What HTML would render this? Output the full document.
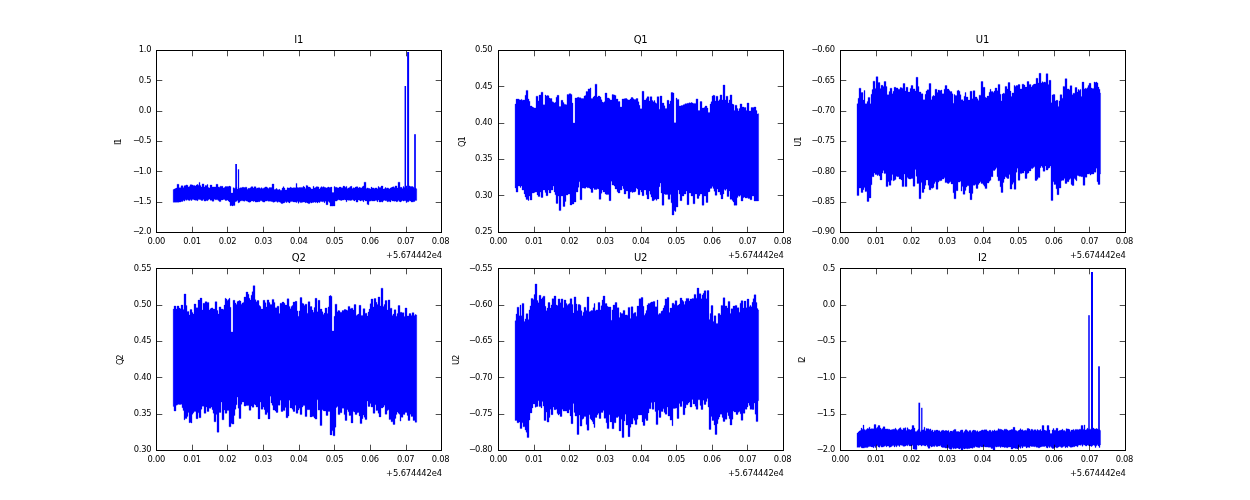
<!DOCTYPE html>
<html><head><meta charset="utf-8"><title>Stokes plots</title>
<style>
html,body{margin:0;padding:0;background:#fff;overflow:hidden}
body{width:1250px;height:500px}
svg text{font-family:"DejaVu Sans","Liberation Sans",sans-serif;fill:#000;letter-spacing:-0.13px}
</style></head><body>
<svg width="1250" height="500" viewBox="0 0 1250 500" style="display:block">
<rect width="1250" height="500" fill="#ffffff"/>
<g>
<clipPath id="c0"><rect x="156.25" y="50.00" width="284.93" height="181.82"/></clipPath>
<g clip-path="url(#c0)"><path d="M173.15 189.5 174 189.5 174 189.0 175 189.0 175 188.5 176 188.5 176 188.1 177 188.1 177 184.3 178 184.3 178 184.3 179 184.3 179 187.7 180 187.7 180 187.7 181 187.7 181 185.8 182 185.8 182 185.8 183 185.8 183 187.4 184 187.4 184 185.7 185 185.7 185 185.5 186 185.5 186 184.9 187 184.9 187 185.3 188 185.3 188 187.1 189 187.1 189 186.4 190 186.4 190 184.7 191 184.7 191 184.7 192 184.7 192 185.0 193 185.0 193 185.4 194 185.4 194 185.4 195 185.4 195 186.1 196 186.1 196 185.1 197 185.1 197 184.5 198 184.5 198 185.2 199 185.2 199 182.4 200 182.4 200 185.4 201 185.4 201 186.9 202 186.9 202 183.9 203 183.9 203 183.9 204 183.9 204 186.9 205 186.9 205 185.4 206 185.4 206 185.4 207 185.4 207 184.6 208 184.6 208 187.5 209 187.5 209 187.9 210 187.9 210 185.0 211 185.0 211 185.0 212 185.0 212 186.9 213 186.9 213 186.9 214 186.9 214 187.0 215 187.0 215 186.9 216 186.9 216 184.3 217 184.3 217 184.3 218 184.3 218 186.9 219 186.9 219 187.3 220 187.3 220 186.2 221 186.2 221 186.3 222 186.3 222 186.3 223 186.3 223 188.0 224 188.0 224 187.6 225 187.6 225 186.5 226 186.5 226 186.5 227 186.5 227 186.5 228 186.5 228 186.5 229 186.5 229 186.1 230 186.1 230 186.6 231 186.6 231 193.0 232 193.0 232 193.0 233 193.0 233 187.7 234 187.7 234 188.2 235 188.2 235 188.2 236 188.2 236 187.0 237 187.0 237 189.0 238 189.0 238 189.0 239 189.0 239 188.3 240 188.3 240 187.8 241 187.8 241 187.8 242 187.8 242 187.3 243 187.3 243 187.3 244 187.3 244 187.5 245 187.5 245 187.2 246 187.2 246 187.2 247 187.2 247 189.2 248 189.2 248 188.3 249 188.3 249 188.3 250 188.3 250 187.8 251 187.8 251 186.7 252 186.7 252 186.7 253 186.7 253 188.1 254 188.1 254 186.7 255 186.7 255 186.7 256 186.7 256 188.2 257 188.2 257 187.9 258 187.9 258 187.8 259 187.8 259 187.8 260 187.8 260 188.6 261 188.6 261 187.7 262 187.7 262 188.4 263 188.4 263 188.2 264 188.2 264 187.7 265 187.7 265 186.9 266 186.9 266 186.9 267 186.9 267 187.7 268 187.7 268 188.5 269 188.5 269 187.6 270 187.6 270 187.6 271 187.6 271 187.6 272 187.6 272 184.0 273 184.0 273 184.0 274 184.0 274 189.5 275 189.5 275 189.3 276 189.3 276 188.6 277 188.6 277 189.4 278 189.4 278 189.8 279 189.8 279 189.3 280 189.3 280 190.3 281 190.3 281 190.2 282 190.2 282 188.1 283 188.1 283 186.7 284 186.7 284 188.1 285 188.1 285 190.0 286 190.0 286 189.9 287 189.9 287 187.8 288 187.8 288 187.9 289 187.9 289 188.0 290 188.0 290 187.2 291 187.2 291 187.7 292 187.7 292 188.1 293 188.1 293 187.7 294 187.7 294 187.7 295 187.7 295 187.8 296 187.8 296 183.4 297 183.4 297 187.5 298 187.5 298 187.7 299 187.7 299 187.5 300 187.5 300 187.4 301 187.4 301 187.4 302 187.4 302 187.6 303 187.6 303 186.3 304 186.3 304 187.1 305 187.1 305 188.6 306 188.6 306 185.4 307 185.4 307 185.7 308 185.7 308 187.1 309 187.1 309 187.1 310 187.1 310 187.8 311 187.8 311 189.0 312 189.0 312 189.0 313 189.0 313 186.3 314 186.3 314 187.9 315 187.9 315 187.6 316 187.6 316 186.7 317 186.7 317 186.7 318 186.7 318 186.9 319 186.9 319 189.1 320 189.1 320 187.7 321 187.7 321 186.7 322 186.7 322 187.3 323 187.3 323 186.7 324 186.7 324 187.3 325 187.3 325 187.6 326 187.6 326 187.9 327 187.9 327 187.4 328 187.4 328 187.0 329 187.0 329 187.6 330 187.6 330 187.3 331 187.3 331 187.1 332 187.1 332 192.5 333 192.5 333 192.5 334 192.5 334 186.6 335 186.6 335 187.3 336 187.3 336 187.3 337 187.3 337 187.8 338 187.8 338 187.9 339 187.9 339 187.1 340 187.1 340 187.0 341 187.0 341 187.7 342 187.7 342 187.8 343 187.8 343 186.1 344 186.1 344 186.3 345 186.3 345 187.3 346 187.3 346 186.4 347 186.4 347 188.4 348 188.4 348 188.0 349 188.0 349 187.4 350 187.4 350 186.6 351 186.6 351 186.3 352 186.3 352 188.6 353 188.6 353 187.8 354 187.8 354 188.1 355 188.1 355 187.1 356 187.1 356 186.8 357 186.8 357 186.8 358 186.8 358 188.1 359 188.1 359 187.3 360 187.3 360 187.7 361 187.7 361 188.0 362 188.0 362 186.8 363 186.8 363 185.9 364 185.9 364 182.2 365 182.2 365 182.2 366 182.2 366 188.4 367 188.4 367 187.9 368 187.9 368 188.3 369 188.3 369 188.5 370 188.5 370 188.9 371 188.9 371 187.1 372 187.1 372 187.9 373 187.9 373 187.9 374 187.9 374 188.4 375 188.4 375 187.9 376 187.9 376 187.9 377 187.9 377 188.8 378 188.8 378 186.5 379 186.5 379 187.6 380 187.6 380 187.6 381 187.6 381 186.0 382 186.0 382 186.0 383 186.0 383 189.1 384 189.1 384 188.7 385 188.7 385 187.6 386 187.6 386 188.3 387 188.3 387 187.9 388 187.9 388 188.2 389 188.2 389 188.9 390 188.9 390 188.0 391 188.0 391 187.5 392 187.5 392 187.0 393 187.0 393 186.8 394 186.8 394 187.4 395 187.4 395 185.9 396 185.9 396 185.9 397 185.9 397 187.9 398 187.9 398 182.2 399 182.2 399 182.2 400 182.2 400 187.3 401 187.3 401 187.3 402 187.3 402 188.5 403 188.5 403 186.6 404 186.6 404 187.4 405 187.4 405 187.4 406 187.4 406 185.9 407 185.9 407 188.6 408 188.6 408 185.9 409 185.9 409 185.9 410 185.9 410 186.6 411 186.6 411 186.5 412 186.5 412 186.5 413 186.5 413 187.2 414 187.2 414 188.4 415 188.4 415 188.0 416 188.0 416 188.8 416.75 188.8 416.75 200.4 416 200.4 416 200.5 415 200.5 415 201.5 414 201.5 414 201.8 413 201.8 413 202.0 412 202.0 412 202.0 411 202.0 411 201.0 410 201.0 410 200.8 409 200.8 409 201.8 408 201.8 408 201.8 407 201.8 407 202.6 406 202.6 406 200.7 405 200.7 405 200.7 404 200.7 404 201.1 403 201.1 403 200.5 402 200.5 402 201.2 401 201.2 401 201.9 400 201.9 400 201.5 399 201.5 399 200.6 398 200.6 398 201.6 397 201.6 397 201.7 396 201.7 396 201.0 395 201.0 395 201.2 394 201.2 394 201.1 393 201.1 393 201.0 392 201.0 392 200.3 391 200.3 391 201.9 390 201.9 390 201.6 389 201.6 389 201.6 388 201.6 388 201.7 387 201.7 387 200.8 386 200.8 386 200.7 385 200.7 385 200.3 384 200.3 384 200.7 383 200.7 383 202.1 382 202.1 382 201.7 381 201.7 381 202.0 380 202.0 380 202.0 379 202.0 379 200.1 378 200.1 378 201.7 377 201.7 377 200.6 376 200.6 376 200.6 375 200.6 375 201.0 374 201.0 374 201.0 373 201.0 373 201.0 372 201.0 372 200.8 371 200.8 371 201.1 370 201.1 370 201.2 369 201.2 369 204.7 368 204.7 368 204.3 367 204.3 367 200.9 366 200.9 366 200.9 365 200.9 365 200.0 364 200.0 364 201.7 363 201.7 363 200.6 362 200.6 362 200.6 361 200.6 361 201.0 360 201.0 360 200.2 359 200.2 359 199.9 358 199.9 358 202.1 357 202.1 357 202.1 356 202.1 356 200.1 355 200.1 355 200.9 354 200.9 354 200.3 353 200.3 353 199.8 352 199.8 352 200.3 351 200.3 351 200.4 350 200.4 350 200.3 349 200.3 349 200.3 348 200.3 348 200.0 347 200.0 347 201.8 346 201.8 346 199.9 345 199.9 345 199.8 344 199.8 344 200.0 343 200.0 343 200.1 342 200.1 342 200.4 341 200.4 341 200.3 340 200.3 340 200.0 339 200.0 339 199.7 338 199.7 338 200.3 337 200.3 337 201.1 336 201.1 336 201.1 335 201.1 335 206.0 334 206.0 334 205.9 333 205.9 333 206.1 332 206.1 332 206.0 331 206.0 331 206.1 330 206.1 330 202.4 329 202.4 329 201.4 328 201.4 328 204.7 327 204.7 327 204.7 326 204.7 326 201.3 325 201.3 325 202.7 324 202.7 324 201.5 323 201.5 323 201.8 322 201.8 322 201.4 321 201.4 321 201.4 320 201.4 320 202.5 319 202.5 319 201.9 318 201.9 318 203.0 317 203.0 317 202.0 316 202.0 316 202.6 315 202.6 315 202.0 314 202.0 314 202.4 313 202.4 313 202.4 312 202.4 312 203.0 311 203.0 311 202.4 310 202.4 310 203.6 309 203.6 309 203.6 308 203.6 308 202.9 307 202.9 307 202.5 306 202.5 306 202.7 305 202.7 305 202.0 304 202.0 304 202.1 303 202.1 303 202.2 302 202.2 302 202.6 301 202.6 301 202.6 300 202.6 300 201.7 299 201.7 299 203.2 298 203.2 298 201.4 297 201.4 297 202.4 296 202.4 296 202.1 295 202.1 295 202.0 294 202.0 294 201.9 293 201.9 293 201.6 292 201.6 292 201.6 291 201.6 291 201.8 290 201.8 290 202.9 289 202.9 289 202.2 288 202.2 288 201.8 287 201.8 287 202.5 286 202.5 286 201.8 285 201.8 285 202.7 284 202.7 284 202.9 283 202.9 283 203.6 282 203.6 282 203.4 281 203.4 281 202.6 280 202.6 280 202.0 279 202.0 279 201.8 278 201.8 278 202.3 277 202.3 277 201.6 276 201.6 276 201.6 275 201.6 275 202.0 274 202.0 274 202.2 273 202.2 273 201.7 272 201.7 272 201.4 271 201.4 271 201.2 270 201.2 270 201.2 269 201.2 269 201.2 268 201.2 268 200.8 267 200.8 267 201.1 266 201.1 266 201.1 265 201.1 265 202.1 264 202.1 264 202.1 263 202.1 263 201.6 262 201.6 262 200.7 261 200.7 261 200.8 260 200.8 260 201.7 259 201.7 259 201.7 258 201.7 258 201.9 257 201.9 257 202.1 256 202.1 256 202.1 255 202.1 255 200.9 254 200.9 254 201.5 253 201.5 253 200.9 252 200.9 252 200.9 251 200.9 251 202.0 250 202.0 250 202.2 249 202.2 249 202.0 248 202.0 248 201.3 247 201.3 247 201.1 246 201.1 246 200.6 245 200.6 245 201.2 244 201.2 244 201.1 243 201.1 243 200.8 242 200.8 242 200.8 241 200.8 241 200.9 240 200.9 240 202.2 239 202.2 239 202.8 238 202.8 238 200.6 237 200.6 237 201.3 236 201.3 236 201.7 235 201.7 235 205.6 234 205.6 234 205.4 233 205.4 233 205.9 232 205.9 232 205.5 231 205.5 231 205.7 230 205.7 230 201.9 229 201.9 229 201.0 228 201.0 228 200.0 227 200.0 227 200.4 226 200.4 226 200.4 225 200.4 225 199.4 224 199.4 224 199.5 223 199.5 223 199.9 222 199.9 222 199.9 221 199.9 221 201.6 220 201.6 220 201.6 219 201.6 219 200.5 218 200.5 218 199.8 217 199.8 217 199.8 216 199.8 216 199.8 215 199.8 215 199.3 214 199.3 214 201.2 213 201.2 213 201.2 212 201.2 212 200.3 211 200.3 211 200.3 210 200.3 210 199.1 209 199.1 209 199.8 208 199.8 208 200.7 207 200.7 207 200.4 206 200.4 206 201.1 205 201.1 205 201.1 204 201.1 204 199.6 203 199.6 203 200.4 202 200.4 202 200.4 201 200.4 201 199.7 200 199.7 200 199.6 199 199.6 199 199.6 198 199.6 198 200.7 197 200.7 197 200.2 196 200.2 196 200.2 195 200.2 195 200.0 194 200.0 194 199.6 193 199.6 193 199.6 192 199.6 192 200.5 191 200.5 191 199.8 190 199.8 190 200.6 189 200.6 189 200.2 188 200.2 188 199.8 187 199.8 187 200.2 186 200.2 186 199.8 185 199.8 185 201.1 184 201.1 184 200.6 183 200.6 183 201.4 182 201.4 182 201.4 181 201.4 181 202.0 180 202.0 180 202.0 179 202.0 179 202.2 178 202.2 178 202.2 177 202.2 177 202.2 176 202.2 176 202.3 175 202.3 175 202.3 174 202.3 174 202.3 173.15 202.3Z" fill="#0000ff" stroke="#0000ff" stroke-width="0.30" stroke-linejoin="miter"/><rect x="235.25" y="164.00" width="1.70" height="34.28" fill="#0000ff"/><rect x="237.85" y="169.30" width="1.30" height="30.52" fill="#0000ff"/><rect x="404.55" y="86.00" width="1.50" height="111.66" fill="#0000ff"/><rect x="407.10" y="52.00" width="2.00" height="146.81" fill="#0000ff"/><rect x="414.15" y="134.20" width="1.70" height="63.30" fill="#0000ff"/></g>
<path d="M156.50 232.50 v-5.80 M156.50 50.50 v5.80 M192.50 232.50 v-5.80 M192.50 50.50 v5.80 M227.50 232.50 v-5.80 M227.50 50.50 v5.80 M263.50 232.50 v-5.80 M263.50 50.50 v5.80 M299.50 232.50 v-5.80 M299.50 50.50 v5.80 M334.50 232.50 v-5.80 M334.50 50.50 v5.80 M370.50 232.50 v-5.80 M370.50 50.50 v5.80 M406.50 232.50 v-5.80 M406.50 50.50 v5.80 M441.50 232.50 v-5.80 M441.50 50.50 v5.80 M156.50 50.50 h5.80 M441.50 50.50 h-5.80 M156.50 80.50 h5.80 M441.50 80.50 h-5.80 M156.50 111.50 h5.80 M441.50 111.50 h-5.80 M156.50 141.50 h5.80 M441.50 141.50 h-5.80 M156.50 171.50 h5.80 M441.50 171.50 h-5.80 M156.50 202.50 h5.80 M441.50 202.50 h-5.80 M156.50 232.50 h5.80 M441.50 232.50 h-5.80" stroke="#000" stroke-width="0.70" fill="none"/>
<rect x="156.50" y="50.50" width="285.00" height="182.00" fill="none" stroke="#000" stroke-width="1.00"/>
<text x="156.35" y="244.02" text-anchor="middle" font-size="8.33" style="letter-spacing:-0.25px">0.00</text>
<text x="191.97" y="244.02" text-anchor="middle" font-size="8.33" style="letter-spacing:-0.25px">0.01</text>
<text x="227.58" y="244.02" text-anchor="middle" font-size="8.33" style="letter-spacing:-0.25px">0.02</text>
<text x="263.20" y="244.02" text-anchor="middle" font-size="8.33" style="letter-spacing:-0.25px">0.03</text>
<text x="298.81" y="244.02" text-anchor="middle" font-size="8.33" style="letter-spacing:-0.25px">0.04</text>
<text x="334.43" y="244.02" text-anchor="middle" font-size="8.33" style="letter-spacing:-0.25px">0.05</text>
<text x="370.04" y="244.02" text-anchor="middle" font-size="8.33" style="letter-spacing:-0.25px">0.06</text>
<text x="405.66" y="244.02" text-anchor="middle" font-size="8.33" style="letter-spacing:-0.25px">0.07</text>
<text x="440.58" y="244.02" text-anchor="middle" font-size="8.33" style="letter-spacing:-0.25px">0.08</text>
<text x="151.15" y="52.00" text-anchor="end" font-size="8.33" style="letter-spacing:-0.3px">1.0</text>
<text x="151.15" y="83.00" text-anchor="end" font-size="8.33" style="letter-spacing:-0.3px">0.5</text>
<text x="151.15" y="113.00" text-anchor="end" font-size="8.33" style="letter-spacing:-0.3px">0.0</text>
<text x="151.15" y="143.00" text-anchor="end" font-size="8.33" style="letter-spacing:-0.3px"><tspan style="letter-spacing:-1.1px">−</tspan>0.5</text>
<text x="151.15" y="174.00" text-anchor="end" font-size="8.33" style="letter-spacing:-0.3px"><tspan style="letter-spacing:-1.1px">−</tspan>1.0</text>
<text x="151.15" y="204.00" text-anchor="end" font-size="8.33" style="letter-spacing:-0.3px"><tspan style="letter-spacing:-1.1px">−</tspan>1.5</text>
<text x="151.15" y="234.00" text-anchor="end" font-size="8.33" style="letter-spacing:-0.3px"><tspan style="letter-spacing:-1.1px">−</tspan>2.0</text>
<text x="441.83" y="258.02" text-anchor="end" font-size="8.33">+5.674442e4</text>
<text x="298.71" y="43.00" text-anchor="middle" font-size="10.00">I1</text>
<text transform="translate(121.35 142.21) rotate(-90)" text-anchor="middle" font-size="8.33" style="letter-spacing:-1.2px">I1</text>
</g>
<g>
<clipPath id="c1"><rect x="498.16" y="50.00" width="284.93" height="181.82"/></clipPath>
<g clip-path="url(#c1)"><path d="M515.062 104.0 516 104.0 516 99.1 517 99.1 517 99.0 518 99.0 518 99.0 519 99.0 519 99.8 520 99.8 520 100.1 521 100.1 521 99.4 522 99.4 522 100.2 523 100.2 523 100.0 524 100.0 524 100.0 525 100.0 525 95.3 526 95.3 526 90.4 527 90.4 527 90.4 528 90.4 528 99.0 529 99.0 529 101.2 530 101.2 530 106.0 531 106.0 531 106.0 532 106.0 532 106.9 533 106.9 533 107.6 534 107.6 534 108.0 535 108.0 535 108.0 536 108.0 536 96.2 537 96.2 537 96.2 538 96.2 538 101.0 539 101.0 539 95.0 540 95.0 540 95.0 541 95.0 541 92.2 542 92.2 542 92.2 543 92.2 543 104.8 544 104.8 544 104.8 545 104.8 545 95.0 546 95.0 546 95.9 547 95.9 547 95.5 548 95.5 548 95.8 549 95.8 549 98.1 550 98.1 550 98.5 551 98.5 551 98.5 552 98.5 552 101.7 553 101.7 553 102.2 554 102.2 554 103.1 555 103.1 555 102.3 556 102.3 556 97.2 557 97.2 557 95.3 558 95.3 558 95.3 559 95.3 559 106.6 560 106.6 560 106.6 561 106.6 561 100.3 562 100.3 562 100.3 563 100.3 563 102.6 564 102.6 564 104.2 565 104.2 565 104.4 566 104.4 566 104.7 567 104.7 567 94.5 568 94.5 568 94.4 569 94.4 569 93.7 570 93.7 570 93.7 571 93.7 571 94.5 572 94.5 572 103.0 573 103.0 573 123.0 574 123.0 574 123.0 575 123.0 575 98.0 576 98.0 576 98.1 577 98.1 577 97.6 578 97.6 578 97.2 579 97.2 579 97.7 580 97.7 580 97.8 581 97.8 581 98.5 582 98.5 582 98.6 583 98.6 583 98.4 584 98.4 584 96.0 585 96.0 585 95.4 586 95.4 586 91.5 587 91.5 587 91.5 588 91.5 588 88.9 589 88.9 589 89.1 590 89.1 590 87.9 591 87.9 591 98.5 592 98.5 592 98.5 593 98.5 593 97.0 594 97.0 594 96.0 595 96.0 595 84.2 596 84.2 596 84.2 597 84.2 597 97.1 598 97.1 598 96.0 599 96.0 599 96.1 600 96.1 600 97.1 601 97.1 601 99.7 602 99.7 602 102.1 603 102.1 603 102.6 604 102.6 604 101.7 605 101.7 605 93.0 606 93.0 606 93.0 607 93.0 607 98.0 608 98.0 608 98.0 609 98.0 609 98.7 610 98.7 610 100.0 611 100.0 611 100.0 612 100.0 612 94.6 613 94.6 613 94.7 614 94.7 614 95.0 615 95.0 615 95.4 616 95.4 616 99.0 617 99.0 617 99.0 618 99.0 618 101.5 619 101.5 619 101.5 620 101.5 620 107.0 621 107.0 621 107.0 622 107.0 622 99.0 623 99.0 623 99.0 624 99.0 624 98.7 625 98.7 625 98.5 626 98.5 626 98.5 627 98.5 627 99.5 628 99.5 628 100.0 629 100.0 629 100.0 630 100.0 630 99.0 631 99.0 631 97.5 632 97.5 632 97.5 633 97.5 633 98.8 634 98.8 634 99.5 635 99.5 635 99.5 636 99.5 636 98.5 637 98.5 637 98.5 638 98.5 638 101.8 639 101.8 639 105.3 640 105.3 640 108.8 641 108.8 641 108.8 642 108.8 642 91.3 643 91.3 643 91.3 644 91.3 644 100.0 645 100.0 645 100.0 646 100.0 646 98.4 647 98.4 647 96.7 648 96.7 648 96.7 649 96.7 649 101.0 650 101.0 650 96.7 651 96.7 651 96.7 652 96.7 652 100.5 653 100.5 653 101.7 654 101.7 654 100.6 655 100.6 655 102.8 656 102.8 656 103.5 657 103.5 657 96.7 658 96.7 658 96.7 659 96.7 659 109.3 660 109.3 660 96.0 661 96.0 661 96.0 662 96.0 662 103.0 663 103.0 663 103.0 664 103.0 664 105.8 665 105.8 665 108.4 666 108.4 666 108.4 667 108.4 667 100.3 668 100.3 668 100.3 669 100.3 669 104.0 670 104.0 670 100.9 671 100.9 671 92.5 672 92.5 672 92.6 673 92.6 673 93.0 674 93.0 674 122.8 675 122.8 675 122.8 676 122.8 676 98.1 677 98.1 677 99.4 678 99.4 678 99.4 679 99.4 679 106.0 680 106.0 680 106.0 681 106.0 681 105.6 682 105.6 682 105.5 683 105.5 683 104.8 684 104.8 684 104.4 685 104.4 685 103.7 686 103.7 686 103.8 687 103.8 687 103.3 688 103.3 688 103.3 689 103.3 689 102.8 690 102.8 690 103.1 691 103.1 691 102.5 692 102.5 692 102.9 693 102.9 693 103.6 694 103.6 694 103.4 695 103.4 695 103.4 696 103.4 696 98.9 697 98.9 697 98.9 698 98.9 698 110.6 699 110.6 699 110.6 700 110.6 700 101.6 701 101.6 701 101.6 702 101.6 702 108.0 703 108.0 703 108.0 704 108.0 704 107.6 705 107.6 705 106.0 706 106.0 706 106.0 707 106.0 707 108.0 708 108.0 708 112.4 709 112.4 709 112.4 710 112.4 710 104.0 711 104.0 711 101.7 712 101.7 712 96.0 713 96.0 713 95.2 714 95.2 714 95.5 715 95.5 715 101.0 716 101.0 716 96.2 717 96.2 717 96.2 718 96.2 718 101.0 719 101.0 719 99.8 720 99.8 720 94.9 721 94.9 721 94.9 722 94.9 722 100.0 723 100.0 723 85.0 724 85.0 724 85.0 725 85.0 725 100.0 726 100.0 726 96.2 727 96.2 727 96.2 728 96.2 728 103.0 729 103.0 729 99.9 730 99.9 730 94.9 731 94.9 731 94.9 732 94.9 732 104.0 733 104.0 733 104.5 734 104.5 734 110.6 735 110.6 735 105.2 736 105.2 736 105.2 737 105.2 737 108.6 738 108.6 738 111.0 739 111.0 739 108.6 740 108.6 740 103.9 741 103.9 741 103.9 742 103.9 742 107.0 743 107.0 743 107.0 744 107.0 744 107.4 745 107.4 745 107.5 746 107.5 746 110.6 747 110.6 747 103.0 748 103.0 748 103.0 749 103.0 749 111.0 750 111.0 750 111.0 751 111.0 751 107.5 752 107.5 752 107.5 753 107.5 753 107.4 754 107.4 754 107.0 755 107.0 755 107.0 756 107.0 756 110.6 757 110.6 757 114.0 758 114.0 758 113.7 758.662 113.7 758.662 200.9 758 200.9 758 201.0 757 201.0 757 201.0 756 201.0 756 201.0 755 201.0 755 201.0 754 201.0 754 196.0 753 196.0 753 196.0 752 196.0 752 199.8 751 199.8 751 199.8 750 199.8 750 198.5 749 198.5 749 198.5 748 198.5 748 197.8 747 197.8 747 198.0 746 198.0 746 198.0 745 198.0 745 197.0 744 197.0 744 197.8 743 197.8 743 201.0 742 201.0 742 201.0 741 201.0 741 195.3 740 195.3 740 196.3 739 196.3 739 195.7 738 195.7 738 197.6 737 197.6 737 205.2 736 205.2 736 205.2 735 205.2 735 205.3 734 205.3 734 202.0 733 202.0 733 200.5 732 200.5 732 199.3 731 199.3 731 199.3 730 199.3 730 191.0 729 191.0 729 196.6 728 196.6 728 196.6 727 196.6 727 189.0 726 189.0 726 190.3 725 190.3 725 189.6 724 189.6 724 194.0 723 194.0 723 198.9 722 198.9 722 198.9 721 198.9 721 194.7 720 194.7 720 192.0 719 192.0 719 192.0 718 192.0 718 189.0 717 189.0 717 195.3 716 195.3 716 195.3 715 195.3 715 191.3 714 191.3 714 188.6 713 188.6 713 186.5 712 186.5 712 188.3 711 188.3 711 188.5 710 188.5 710 191.7 709 191.7 709 192.0 708 192.0 708 202.5 707 202.5 707 202.5 706 202.5 706 196.0 705 196.0 705 196.0 704 196.0 704 205.2 703 205.2 703 205.2 702 205.2 702 194.0 701 194.0 701 194.0 700 194.0 700 195.8 699 195.8 699 198.4 698 198.4 698 198.4 697 198.4 697 194.0 696 194.0 696 194.0 695 194.0 695 203.8 694 203.8 694 203.8 693 203.8 693 196.0 692 196.0 692 196.0 691 196.0 691 193.0 690 193.0 690 193.0 689 193.0 689 204.7 688 204.7 688 204.7 687 204.7 687 191.0 686 191.0 686 194.0 685 194.0 685 194.0 684 194.0 684 196.0 683 196.0 683 196.0 682 196.0 682 200.7 681 200.7 681 200.7 680 200.7 680 194.0 679 194.0 679 190.0 678 190.0 678 207.0 677 207.0 677 207.0 676 207.0 676 211.4 675 211.4 675 210.7 674 210.7 674 215.0 673 215.0 673 215.0 672 215.0 672 202.8 671 202.8 671 194.5 670 194.5 670 199.3 669 199.3 669 199.3 668 199.3 668 194.4 667 194.4 667 194.4 666 194.4 666 194.4 665 194.4 665 194.0 664 194.0 664 205.2 663 205.2 663 205.2 662 205.2 662 193.0 661 193.0 661 183.0 660 183.0 660 186.7 659 186.7 659 198.9 658 198.9 658 198.9 657 198.9 657 200.3 656 200.3 656 199.1 655 199.1 655 199.8 654 199.8 654 200.7 653 200.7 653 200.7 652 200.7 652 197.1 651 197.1 651 194.3 650 194.3 650 191.0 649 191.0 649 198.9 648 198.9 648 198.9 647 198.9 647 194.8 646 194.8 646 190.0 645 190.0 645 190.0 644 190.0 644 195.7 643 195.7 643 195.7 642 195.7 642 192.1 641 192.1 641 190.0 640 190.0 640 194.8 639 194.8 639 194.8 638 194.8 638 189.1 637 189.1 637 188.0 636 188.0 636 191.4 635 191.4 635 192.1 634 192.1 634 192.0 633 192.0 633 192.4 632 192.4 632 191.8 631 191.8 631 192.0 630 192.0 630 198.4 629 198.4 629 198.4 628 198.4 628 191.0 627 191.0 627 191.0 626 191.0 626 194.0 625 194.0 625 194.0 624 194.0 624 188.7 623 188.7 623 186.0 622 186.0 622 190.0 621 190.0 621 190.0 620 190.0 620 193.0 619 193.0 619 193.0 618 193.0 618 191.7 617 191.7 617 189.0 616 189.0 616 189.0 615 189.0 615 186.1 614 186.1 614 185.0 613 185.0 613 185.0 612 185.0 612 181.3 611 181.3 611 200.7 610 200.7 610 200.7 609 200.7 609 194.4 608 194.4 608 194.6 607 194.6 607 194.6 606 194.6 606 194.0 605 194.0 605 192.0 604 192.0 604 192.0 603 192.0 603 190.0 602 190.0 602 193.3 601 193.3 601 199.3 600 199.3 600 199.3 599 199.3 599 189.0 598 189.0 598 188.8 597 188.8 597 189.4 596 189.4 596 189.4 595 189.4 595 189.4 594 189.4 594 188.0 593 188.0 593 192.5 592 192.5 592 192.5 591 192.5 591 189.0 590 189.0 590 188.1 589 188.1 589 187.7 588 187.7 588 187.8 587 187.8 587 186.9 586 186.9 586 188.2 585 188.2 585 188.2 584 188.2 584 188.0 583 188.0 583 188.0 582 188.0 582 199.8 581 199.8 581 199.8 580 199.8 580 181.8 579 181.8 579 187.3 578 187.3 578 192.0 577 192.0 577 192.0 576 192.0 576 202.0 575 202.0 575 202.0 574 202.0 574 204.0 573 204.0 573 204.0 572 204.0 572 205.0 571 205.0 571 205.0 570 205.0 570 194.0 569 194.0 569 194.0 568 194.0 568 195.0 567 195.0 567 195.0 566 195.0 566 201.5 565 201.5 565 206.5 564 206.5 564 206.5 563 206.5 563 196.0 562 196.0 562 196.0 561 196.0 561 210.6 560 210.6 560 210.6 559 210.6 559 196.0 558 196.0 558 203.4 557 203.4 557 203.4 556 203.4 556 194.8 555 194.8 555 192.0 554 192.0 554 186.0 553 186.0 553 190.0 552 190.0 552 190.0 551 190.0 551 193.0 550 193.0 550 193.0 549 193.0 549 190.0 548 190.0 548 195.7 547 195.7 547 195.7 546 195.7 546 192.6 545 192.6 545 190.0 544 190.0 544 190.0 543 190.0 543 197.5 542 197.5 542 197.5 541 197.5 541 192.0 540 192.0 540 196.6 539 196.6 539 196.6 538 196.6 538 194.9 537 194.9 537 192.0 536 192.0 536 192.0 535 192.0 535 192.6 534 192.6 534 193.0 533 193.0 533 193.0 532 193.0 532 200.0 531 200.0 531 200.0 530 200.0 530 196.0 529 196.0 529 200.5 528 200.5 528 199.5 527 199.5 527 199.4 526 199.4 526 197.0 525 197.0 525 193.9 524 193.9 524 190.0 523 190.0 523 190.0 522 190.0 522 185.9 521 185.9 521 187.4 520 187.4 520 185.9 519 185.9 519 186.0 518 186.0 518 192.1 517 192.1 517 192.1 516 192.1 516 188.0 515.062 188.0Z" fill="#0000ff" stroke="#0000ff" stroke-width="0.30" stroke-linejoin="miter"/></g>
<path d="M498.50 232.50 v-5.80 M498.50 50.50 v5.80 M534.50 232.50 v-5.80 M534.50 50.50 v5.80 M569.50 232.50 v-5.80 M569.50 50.50 v5.80 M605.50 232.50 v-5.80 M605.50 50.50 v5.80 M641.50 232.50 v-5.80 M641.50 50.50 v5.80 M676.50 232.50 v-5.80 M676.50 50.50 v5.80 M712.50 232.50 v-5.80 M712.50 50.50 v5.80 M747.50 232.50 v-5.80 M747.50 50.50 v5.80 M783.50 232.50 v-5.80 M783.50 50.50 v5.80 M498.50 50.50 h5.80 M783.50 50.50 h-5.80 M498.50 86.50 h5.80 M783.50 86.50 h-5.80 M498.50 123.50 h5.80 M783.50 123.50 h-5.80 M498.50 159.50 h5.80 M783.50 159.50 h-5.80 M498.50 195.50 h5.80 M783.50 195.50 h-5.80 M498.50 232.50 h5.80 M783.50 232.50 h-5.80" stroke="#000" stroke-width="0.70" fill="none"/>
<rect x="498.50" y="50.50" width="285.00" height="182.00" fill="none" stroke="#000" stroke-width="1.00"/>
<text x="498.26" y="244.02" text-anchor="middle" font-size="8.33" style="letter-spacing:-0.25px">0.00</text>
<text x="533.88" y="244.02" text-anchor="middle" font-size="8.33" style="letter-spacing:-0.25px">0.01</text>
<text x="569.49" y="244.02" text-anchor="middle" font-size="8.33" style="letter-spacing:-0.25px">0.02</text>
<text x="605.11" y="244.02" text-anchor="middle" font-size="8.33" style="letter-spacing:-0.25px">0.03</text>
<text x="640.73" y="244.02" text-anchor="middle" font-size="8.33" style="letter-spacing:-0.25px">0.04</text>
<text x="676.34" y="244.02" text-anchor="middle" font-size="8.33" style="letter-spacing:-0.25px">0.05</text>
<text x="711.96" y="244.02" text-anchor="middle" font-size="8.33" style="letter-spacing:-0.25px">0.06</text>
<text x="747.57" y="244.02" text-anchor="middle" font-size="8.33" style="letter-spacing:-0.25px">0.07</text>
<text x="782.49" y="244.02" text-anchor="middle" font-size="8.33" style="letter-spacing:-0.25px">0.08</text>
<text x="492.26" y="52.00" text-anchor="end" font-size="8.33" style="letter-spacing:-0.3px">0.50</text>
<text x="492.26" y="89.00" text-anchor="end" font-size="8.33" style="letter-spacing:-0.3px">0.45</text>
<text x="492.26" y="125.00" text-anchor="end" font-size="8.33" style="letter-spacing:-0.3px">0.40</text>
<text x="492.26" y="161.00" text-anchor="end" font-size="8.33" style="letter-spacing:-0.3px">0.35</text>
<text x="492.26" y="198.00" text-anchor="end" font-size="8.33" style="letter-spacing:-0.3px">0.30</text>
<text x="492.26" y="234.00" text-anchor="end" font-size="8.33" style="letter-spacing:-0.3px">0.25</text>
<text x="783.74" y="258.02" text-anchor="end" font-size="8.33">+5.674442e4</text>
<text x="640.62" y="43.00" text-anchor="middle" font-size="10.00">Q1</text>
<text transform="translate(465.16 142.21) rotate(-90)" text-anchor="middle" font-size="8.33" style="letter-spacing:-1.2px">Q1</text>
</g>
<g>
<clipPath id="c2"><rect x="840.07" y="50.00" width="284.93" height="181.82"/></clipPath>
<g clip-path="url(#c2)"><path d="M856.974 103.8 857 103.8 857 103.7 858 103.7 858 98.3 859 98.3 859 88.2 860 88.2 860 88.2 861 88.2 861 92.5 862 92.5 862 92.5 863 92.5 863 100.1 864 100.1 864 90.5 865 90.5 865 103.7 866 103.7 866 103.7 867 103.7 867 101.4 868 101.4 868 97.4 869 97.4 869 97.4 870 97.4 870 103.7 871 103.7 871 94.3 872 94.3 872 89.6 873 89.6 873 81.2 874 81.2 874 81.2 875 81.2 875 88.4 876 88.4 876 76.7 877 76.7 877 76.7 878 76.7 878 82.6 879 82.6 879 82.6 880 82.6 880 88.4 881 88.4 881 85.3 882 85.3 882 85.3 883 85.3 883 86.6 884 86.6 884 81.5 885 81.5 885 81.5 886 81.5 886 86.6 887 86.6 887 94.7 888 94.7 888 94.7 889 94.7 889 91.6 890 91.6 890 88.2 891 88.2 891 88.2 892 88.2 892 93.8 893 93.8 893 91.3 894 91.3 894 87.3 895 87.3 895 87.3 896 87.3 896 88.0 897 88.0 897 88.0 898 88.0 898 89.3 899 89.3 899 89.3 900 89.3 900 87.6 901 87.6 901 87.7 902 87.7 902 88.2 903 88.2 903 83.5 904 83.5 904 83.5 905 83.5 905 91.1 906 91.1 906 87.3 907 87.3 907 87.3 908 87.3 908 92.0 909 92.0 909 92.0 910 92.0 910 88.4 911 88.4 911 85.5 912 85.5 912 85.5 913 85.5 913 88.9 914 88.9 914 88.9 915 88.9 915 91.1 916 91.1 916 77.3 917 77.3 917 77.3 918 77.3 918 86.6 919 86.6 919 92.0 920 92.0 920 92.0 921 92.0 921 93.8 922 93.8 922 93.8 923 93.8 923 99.7 924 99.7 924 99.7 925 99.7 925 94.3 926 94.3 926 91.1 927 91.1 927 89.8 928 89.8 928 89.8 929 89.8 929 83.5 930 83.5 930 83.5 931 83.5 931 99.7 932 99.7 932 96.5 933 96.5 933 95.4 934 95.4 934 96.1 935 96.1 935 89.3 936 89.3 936 89.3 937 89.3 937 92.5 938 92.5 938 90.1 939 90.1 939 90.2 940 90.2 940 90.5 941 90.5 941 90.0 942 90.0 942 93.8 943 93.8 943 93.8 944 93.8 944 89.2 945 89.2 945 85.5 946 85.5 946 85.5 947 85.5 947 89.1 948 89.1 948 89.1 949 89.1 949 90.6 950 90.6 950 91.6 951 91.6 951 91.6 952 91.6 952 93.8 953 93.8 953 103.3 954 103.3 954 94.6 955 94.6 955 95.6 956 95.6 956 95.6 957 95.6 957 90.7 958 90.7 958 90.3 959 90.3 959 91.2 960 91.2 960 94.7 961 94.7 961 99.7 962 99.7 962 99.7 963 99.7 963 101.0 964 101.0 964 96.2 965 96.2 965 92.5 966 92.5 966 97.0 967 97.0 967 97.0 968 97.0 968 100.1 969 100.1 969 100.1 970 100.1 970 91.3 971 91.3 971 91.3 972 91.3 972 98.8 973 98.8 973 90.7 974 90.7 974 90.7 975 90.7 975 97.0 976 97.0 976 97.0 977 97.0 977 98.8 978 98.8 978 100.6 979 100.6 979 95.2 980 95.2 980 95.2 981 95.2 981 81.5 982 81.5 982 81.5 983 81.5 983 87.3 984 87.3 984 87.3 985 87.3 985 97.3 986 97.3 986 98.0 987 98.0 987 96.1 988 96.1 988 96.1 989 96.1 989 92.3 990 92.3 990 89.3 991 89.3 991 91.6 992 91.6 992 91.6 993 91.6 993 92.5 994 92.5 994 91.0 995 91.0 995 88.0 996 88.0 996 88.0 997 88.0 997 90.7 998 90.7 998 84.4 999 84.4 999 84.4 1000 84.4 1000 94.2 1001 94.2 1001 101.0 1002 101.0 1002 94.1 1003 94.1 1003 93.2 1004 93.2 1004 93.4 1005 93.4 1005 86.4 1006 86.4 1006 86.4 1007 86.4 1007 89.0 1008 89.0 1008 82.6 1009 82.6 1009 82.6 1010 82.6 1010 91.1 1011 91.1 1011 96.5 1012 96.5 1012 92.9 1013 92.9 1013 92.9 1014 92.9 1014 85.4 1015 85.4 1015 86.5 1016 86.5 1016 85.6 1017 85.6 1017 85.6 1018 85.6 1018 84.6 1019 84.6 1019 84.6 1020 84.6 1020 88.9 1021 88.9 1021 88.9 1022 88.9 1022 84.2 1023 84.2 1023 84.2 1024 84.2 1024 85.1 1025 85.1 1025 87.1 1026 87.1 1026 87.1 1027 87.1 1027 81.5 1028 81.5 1028 81.5 1029 81.5 1029 84.4 1030 84.4 1030 84.4 1031 84.4 1031 87.1 1032 87.1 1032 85.5 1033 85.5 1033 84.6 1034 84.6 1034 84.1 1035 84.1 1035 84.0 1036 84.0 1036 78.3 1037 78.3 1037 78.3 1038 78.3 1038 83.0 1039 83.0 1039 73.3 1040 73.3 1040 73.3 1041 73.3 1041 83.0 1042 83.0 1042 81.7 1043 81.7 1043 82.5 1044 82.5 1044 82.0 1045 82.0 1045 82.2 1046 82.2 1046 73.7 1047 73.7 1047 73.7 1048 73.7 1048 84.4 1049 84.4 1049 80.3 1050 80.3 1050 80.3 1051 80.3 1051 102.8 1052 102.8 1052 94.9 1053 94.9 1053 94.4 1054 94.4 1054 94.6 1055 94.6 1055 101.0 1056 101.0 1056 100.3 1057 100.3 1057 100.3 1058 100.3 1058 106.4 1059 106.4 1059 100.9 1060 100.9 1060 94.7 1061 94.7 1061 94.7 1062 94.7 1062 98.3 1063 98.3 1063 86.4 1064 86.4 1064 86.4 1065 86.4 1065 78.7 1066 78.7 1066 78.7 1067 78.7 1067 88.9 1068 88.9 1068 88.9 1069 88.9 1069 89.8 1070 89.8 1070 85.7 1071 85.7 1071 85.7 1072 85.7 1072 94.7 1073 94.7 1073 93.2 1074 93.2 1074 93.2 1075 93.2 1075 87.5 1076 87.5 1076 87.5 1077 87.5 1077 92.0 1078 92.0 1078 89.6 1079 89.6 1079 90.4 1080 90.4 1080 89.4 1081 89.4 1081 96.5 1082 96.5 1082 82.1 1083 82.1 1083 82.1 1084 82.1 1084 88.9 1085 88.9 1085 88.2 1086 88.2 1086 88.8 1087 88.8 1087 87.7 1088 87.7 1088 85.4 1089 85.4 1089 83.3 1090 83.3 1090 83.3 1091 83.3 1091 88.0 1092 88.0 1092 88.4 1093 88.4 1093 88.4 1094 88.4 1094 82.0 1095 82.0 1095 82.6 1096 82.6 1096 82.0 1097 82.0 1097 82.9 1098 82.9 1098 87.1 1099 87.1 1099 89.3 1100 89.3 1100 92.9 1100.57 92.9 1100.57 174.0 1100 174.0 1100 184.4 1099 184.4 1099 184.4 1098 184.4 1098 181.7 1097 181.7 1097 168.2 1096 168.2 1096 172.2 1095 172.2 1095 172.2 1094 172.2 1094 174.0 1093 174.0 1093 174.0 1092 174.0 1092 174.1 1091 174.1 1091 175.1 1090 175.1 1090 173.7 1089 173.7 1089 174.0 1088 174.0 1088 174.0 1087 174.0 1087 177.2 1086 177.2 1086 177.2 1085 177.2 1085 185.3 1084 185.3 1084 185.3 1083 185.3 1083 176.7 1082 176.7 1082 176.7 1081 176.7 1081 176.3 1080 176.3 1080 176.3 1079 176.3 1079 175.7 1078 175.7 1078 175.4 1077 175.4 1077 180.8 1076 180.8 1076 179.5 1075 179.5 1075 178.5 1074 178.5 1074 185.5 1073 185.5 1073 185.5 1072 185.5 1072 184.4 1071 184.4 1071 178.5 1070 178.5 1070 179.6 1069 179.6 1069 181.7 1068 181.7 1068 181.7 1067 181.7 1067 183.5 1066 183.5 1066 183.5 1065 183.5 1065 178.5 1064 178.5 1064 180.3 1063 180.3 1063 180.3 1062 180.3 1062 180.8 1061 180.8 1061 188.0 1060 188.0 1060 188.0 1059 188.0 1059 194.7 1058 194.7 1058 194.7 1057 194.7 1057 188.8 1056 188.8 1056 184.4 1055 184.4 1055 184.4 1054 184.4 1054 181.7 1053 181.7 1053 200.6 1052 200.6 1052 200.6 1051 200.6 1051 165.9 1050 165.9 1050 167.7 1049 167.7 1049 168.2 1048 168.2 1048 170.0 1047 170.0 1047 170.0 1046 170.0 1046 165.9 1045 165.9 1045 171.3 1044 171.3 1044 171.3 1043 171.3 1043 167.4 1042 167.4 1042 165.9 1041 165.9 1041 167.7 1040 167.7 1040 177.6 1039 177.6 1039 177.6 1038 177.6 1038 179.2 1037 179.2 1037 180.5 1036 180.5 1036 180.5 1035 180.5 1035 166.8 1034 166.8 1034 167.5 1033 167.5 1033 168.6 1032 168.6 1032 168.6 1031 168.6 1031 170.9 1030 170.9 1030 170.9 1029 170.9 1029 172.9 1028 172.9 1028 173.6 1027 173.6 1027 178.5 1026 178.5 1026 178.5 1025 178.5 1025 170.9 1024 170.9 1024 173.1 1023 173.1 1023 173.1 1022 173.1 1022 173.6 1021 173.6 1021 173.6 1020 173.6 1020 180.3 1019 180.3 1019 180.3 1018 180.3 1018 168.2 1017 168.2 1017 172.2 1016 172.2 1016 189.3 1015 189.3 1015 189.3 1014 189.3 1014 182.6 1013 182.6 1013 184.3 1012 184.3 1012 189.1 1011 189.1 1011 189.1 1010 189.1 1010 174.5 1009 174.5 1009 178.5 1008 178.5 1008 178.5 1007 178.5 1007 177.6 1006 177.6 1006 176.7 1005 176.7 1005 179.0 1004 179.0 1004 182.5 1003 182.5 1003 192.5 1002 192.5 1002 192.5 1001 192.5 1001 186.8 1000 186.8 1000 180.8 999 180.8 999 180.8 998 180.8 998 176.7 997 176.7 997 167.7 996 167.7 996 169.2 995 169.2 995 170.4 994 170.4 994 170.4 993 170.4 993 176.7 992 176.7 992 176.7 991 176.7 991 180.3 990 180.3 990 181.2 989 181.2 989 183.0 988 183.0 988 183.0 987 183.0 987 188.6 986 188.6 986 188.6 985 188.6 985 186.2 984 186.2 984 184.8 983 184.8 983 183.5 982 183.5 982 183.5 981 183.5 981 181.7 980 181.7 980 183.1 979 183.1 979 184.4 978 184.4 978 188.4 977 188.4 977 188.4 976 188.4 976 184.4 975 184.4 975 185.3 974 185.3 974 185.3 973 185.3 973 193.4 972 193.4 972 199.7 971 199.7 971 199.7 970 199.7 970 192.9 969 192.9 969 185.7 968 185.7 968 185.7 967 185.7 967 187.1 966 187.1 966 190.4 965 190.4 965 194.3 964 194.3 964 194.3 963 194.3 963 186.6 962 186.6 962 191.1 961 191.1 961 181.2 960 181.2 960 182.1 959 182.1 959 182.1 958 182.1 958 190.7 957 190.7 957 190.7 956 190.7 956 198.8 955 198.8 955 198.8 954 198.8 954 192.8 953 192.8 953 183.9 952 183.9 952 183.9 951 183.9 951 181.7 950 181.7 950 182.6 949 182.6 949 183.5 948 183.5 948 183.2 947 183.2 947 182.6 946 182.6 946 182.6 945 182.6 945 177.8 944 177.8 944 179.0 943 179.0 943 179.0 942 179.0 942 180.5 941 180.5 941 180.8 940 180.8 940 180.8 939 180.8 939 182.1 938 182.1 938 189.3 937 189.3 937 189.3 936 189.3 936 181.7 935 181.7 935 183.6 934 183.6 934 187.6 933 187.6 933 188.2 932 188.2 932 188.0 931 188.0 931 189.8 930 189.8 930 189.8 929 189.8 929 185.3 928 185.3 928 179.9 927 179.9 927 179.9 926 179.9 926 185.3 925 185.3 925 188.9 924 188.9 924 192.5 923 192.5 923 192.5 922 192.5 922 182.6 921 182.6 921 198.8 920 198.8 920 198.8 919 198.8 919 183.5 918 183.5 918 183.5 917 183.5 917 176.3 916 176.3 916 169.5 915 169.5 915 186.2 914 186.2 914 186.2 913 186.2 913 178.5 912 178.5 912 178.5 911 178.5 911 179.0 910 179.0 910 179.0 909 179.0 909 178.6 908 178.6 908 177.6 907 177.6 907 186.6 906 186.6 906 186.6 905 186.6 905 174.0 904 174.0 904 186.6 903 186.6 903 186.6 902 186.6 902 179.9 901 179.9 901 179.0 900 179.0 900 179.0 899 179.0 899 176.7 898 176.7 898 176.7 897 176.7 897 176.3 896 176.3 896 179.6 895 179.6 895 180.2 894 180.2 894 180.8 893 180.8 893 174.5 892 174.5 892 180.3 891 180.3 891 185.3 890 185.3 890 185.3 889 185.3 889 181.7 888 181.7 888 186.6 887 186.6 887 186.6 886 186.6 886 173.6 885 173.6 885 173.6 884 173.6 884 170.4 883 170.4 883 173.0 882 173.0 882 179.9 881 179.9 881 179.9 880 179.9 880 176.0 879 176.0 879 174.8 878 174.8 878 175.4 877 175.4 877 174.5 876 174.5 876 174.5 875 174.5 875 173.1 874 173.1 874 176.7 873 176.7 873 176.7 872 176.7 872 184.8 871 184.8 871 197.9 870 197.9 870 197.9 869 197.9 869 201.5 868 201.5 868 201.5 867 201.5 867 191.6 866 191.6 866 191.6 865 191.6 865 187.5 864 187.5 864 189.7 863 189.7 863 192.5 862 192.5 862 192.5 861 192.5 861 188.0 860 188.0 860 188.0 859 188.0 859 195.6 858 195.6 858 195.6 857 195.6 857 194.4 856.974 194.4Z" fill="#0000ff" stroke="#0000ff" stroke-width="0.30" stroke-linejoin="miter"/></g>
<path d="M840.50 232.50 v-5.80 M840.50 50.50 v5.80 M876.50 232.50 v-5.80 M876.50 50.50 v5.80 M911.50 232.50 v-5.80 M911.50 50.50 v5.80 M947.50 232.50 v-5.80 M947.50 50.50 v5.80 M983.50 232.50 v-5.80 M983.50 50.50 v5.80 M1018.50 232.50 v-5.80 M1018.50 50.50 v5.80 M1054.50 232.50 v-5.80 M1054.50 50.50 v5.80 M1089.50 232.50 v-5.80 M1089.50 50.50 v5.80 M1125.50 232.50 v-5.80 M1125.50 50.50 v5.80 M840.50 50.50 h5.80 M1125.50 50.50 h-5.80 M840.50 80.50 h5.80 M1125.50 80.50 h-5.80 M840.50 111.50 h5.80 M1125.50 111.50 h-5.80 M840.50 141.50 h5.80 M1125.50 141.50 h-5.80 M840.50 171.50 h5.80 M1125.50 171.50 h-5.80 M840.50 202.50 h5.80 M1125.50 202.50 h-5.80 M840.50 232.50 h5.80 M1125.50 232.50 h-5.80" stroke="#000" stroke-width="0.70" fill="none"/>
<rect x="840.50" y="50.50" width="285.00" height="182.00" fill="none" stroke="#000" stroke-width="1.00"/>
<text x="840.17" y="244.02" text-anchor="middle" font-size="8.33" style="letter-spacing:-0.25px">0.00</text>
<text x="875.79" y="244.02" text-anchor="middle" font-size="8.33" style="letter-spacing:-0.25px">0.01</text>
<text x="911.41" y="244.02" text-anchor="middle" font-size="8.33" style="letter-spacing:-0.25px">0.02</text>
<text x="947.02" y="244.02" text-anchor="middle" font-size="8.33" style="letter-spacing:-0.25px">0.03</text>
<text x="982.64" y="244.02" text-anchor="middle" font-size="8.33" style="letter-spacing:-0.25px">0.04</text>
<text x="1018.25" y="244.02" text-anchor="middle" font-size="8.33" style="letter-spacing:-0.25px">0.05</text>
<text x="1053.87" y="244.02" text-anchor="middle" font-size="8.33" style="letter-spacing:-0.25px">0.06</text>
<text x="1089.48" y="244.02" text-anchor="middle" font-size="8.33" style="letter-spacing:-0.25px">0.07</text>
<text x="1124.40" y="244.02" text-anchor="middle" font-size="8.33" style="letter-spacing:-0.25px">0.08</text>
<text x="834.67" y="52.00" text-anchor="end" font-size="8.33" style="letter-spacing:-0.3px"><tspan style="letter-spacing:-1.1px">−</tspan>0.60</text>
<text x="834.67" y="83.00" text-anchor="end" font-size="8.33" style="letter-spacing:-0.3px"><tspan style="letter-spacing:-1.1px">−</tspan>0.65</text>
<text x="834.67" y="113.00" text-anchor="end" font-size="8.33" style="letter-spacing:-0.3px"><tspan style="letter-spacing:-1.1px">−</tspan>0.70</text>
<text x="834.67" y="143.00" text-anchor="end" font-size="8.33" style="letter-spacing:-0.3px"><tspan style="letter-spacing:-1.1px">−</tspan>0.75</text>
<text x="834.67" y="174.00" text-anchor="end" font-size="8.33" style="letter-spacing:-0.3px"><tspan style="letter-spacing:-1.1px">−</tspan>0.80</text>
<text x="834.67" y="204.00" text-anchor="end" font-size="8.33" style="letter-spacing:-0.3px"><tspan style="letter-spacing:-1.1px">−</tspan>0.85</text>
<text x="834.67" y="234.00" text-anchor="end" font-size="8.33" style="letter-spacing:-0.3px"><tspan style="letter-spacing:-1.1px">−</tspan>0.90</text>
<text x="1125.65" y="258.02" text-anchor="end" font-size="8.33">+5.674442e4</text>
<text x="982.54" y="43.00" text-anchor="middle" font-size="10.00">U1</text>
<text transform="translate(800.57 142.21) rotate(-90)" text-anchor="middle" font-size="8.33" style="letter-spacing:-1.2px">U1</text>
</g>
<g>
<clipPath id="c3"><rect x="156.25" y="268.18" width="284.93" height="181.82"/></clipPath>
<g clip-path="url(#c3)"><path d="M173.15 309.1 174 309.1 174 306.0 175 306.0 175 306.0 176 306.0 176 309.1 177 309.1 177 306.0 178 306.0 178 306.0 179 306.0 179 308.1 180 308.1 180 308.7 181 308.7 181 305.1 182 305.1 182 305.1 183 305.1 183 309.6 184 309.6 184 294.0 185 294.0 185 294.0 186 294.0 186 305.5 187 305.5 187 311.4 188 311.4 188 311.4 189 311.4 189 315.0 190 315.0 190 309.6 191 309.6 191 309.6 192 309.6 192 312.4 193 312.4 193 314.1 194 314.1 194 304.0 195 304.0 195 304.0 196 304.0 196 307.8 197 307.8 197 307.8 198 307.8 198 300.1 199 300.1 199 300.1 200 300.1 200 298.1 201 298.1 201 298.1 202 298.1 202 310.0 203 310.0 203 303.3 204 303.3 204 303.3 205 303.3 205 301.7 206 301.7 206 301.7 207 301.7 207 302.4 208 302.4 208 302.4 209 302.4 209 310.0 210 310.0 210 308.7 211 308.7 211 308.1 212 308.1 212 307.9 213 307.9 213 309.1 214 309.1 214 309.1 215 309.1 215 301.7 216 301.7 216 301.7 217 301.7 217 310.5 218 310.5 218 314.1 219 314.1 219 306.9 220 306.9 220 306.9 221 306.9 221 309.1 222 309.1 222 309.1 223 309.1 223 309.6 224 309.6 224 305.1 225 305.1 225 298.3 226 298.3 226 299.1 227 299.1 227 300.6 228 300.6 228 299.6 229 299.6 229 298.3 230 298.3 230 307.3 231 307.3 231 332.0 232 332.0 232 332.0 233 332.0 233 300.3 234 300.3 234 300.3 235 300.3 235 303.1 236 303.1 236 304.6 237 304.6 237 301.4 238 301.4 238 301.1 239 301.1 239 300.6 240 300.6 240 301.1 241 301.1 241 304.2 242 304.2 242 302.9 243 302.9 243 302.4 244 302.4 244 297.0 245 297.0 245 297.0 246 297.0 246 292.0 247 292.0 247 292.0 248 292.0 248 294.3 249 294.3 249 298.2 250 298.2 250 300.1 251 300.1 251 295.2 252 295.2 252 291.7 253 291.7 253 285.7 254 285.7 254 285.7 255 285.7 255 299.7 256 299.7 256 301.7 257 301.7 257 300.5 258 300.5 258 300.6 259 300.6 259 305.5 260 305.5 260 306.5 261 306.5 261 309.1 262 309.1 262 309.1 263 309.1 263 300.3 264 300.3 264 300.3 265 300.3 265 302.8 266 302.8 266 306.9 267 306.9 267 299.9 268 299.9 268 299.9 269 299.9 269 302.6 270 302.6 270 304.6 271 304.6 271 304.6 272 304.6 272 299.4 273 299.4 273 299.4 274 299.4 274 302.4 275 302.4 275 307.8 276 307.8 276 307.8 277 307.8 277 306.2 278 306.2 278 306.2 279 306.2 279 313.6 280 313.6 280 303.3 281 303.3 281 303.3 282 303.3 282 302.1 283 302.1 283 302.1 284 302.1 284 303.3 285 303.3 285 305.1 286 305.1 286 305.1 287 305.1 287 298.8 288 298.8 288 298.8 289 298.8 289 306.4 290 306.4 290 308.7 291 308.7 291 306.4 292 306.4 292 305.5 293 305.5 293 302.1 294 302.1 294 302.1 295 302.1 295 301.3 296 301.3 296 301.3 297 301.3 297 310.9 298 310.9 298 316.3 299 316.3 299 310.9 300 310.9 300 297.6 301 297.6 301 297.6 302 297.6 302 303.3 303 303.3 303 303.7 304 303.7 304 305.5 305 305.5 305 304.2 306 304.2 306 304.2 307 304.2 307 313.2 308 313.2 308 301.7 309 301.7 309 301.7 310 301.7 310 306.6 311 306.6 311 306.6 312 306.6 312 310.0 313 310.0 313 312.3 314 312.3 314 307.6 315 307.6 315 298.3 316 298.3 316 298.3 317 298.3 317 311.8 318 311.8 318 300.3 319 300.3 319 300.3 320 300.3 320 309.1 321 309.1 321 309.1 322 309.1 322 311.8 323 311.8 323 314.5 324 314.5 324 313.1 325 313.1 325 308.0 326 308.0 326 308.0 327 308.0 327 313.6 328 313.6 328 306.9 329 306.9 329 296.1 330 296.1 330 295.5 331 295.5 331 296.3 332 296.3 332 331.0 333 331.0 333 331.0 334 331.0 334 316.3 335 316.3 335 304.2 336 304.2 336 304.2 337 304.2 337 311.8 338 311.8 338 310.5 339 310.5 339 310.7 340 310.7 340 312.3 341 312.3 341 312.3 342 312.3 342 310.5 343 310.5 343 310.5 344 310.5 344 309.6 345 309.6 345 309.6 346 309.6 346 309.9 347 309.9 347 310.5 348 310.5 348 306.4 349 306.4 349 306.4 350 306.4 350 308.7 351 308.7 351 308.2 352 308.2 352 308.2 353 308.2 353 310.0 354 310.0 354 304.6 355 304.6 355 304.6 356 304.6 356 315.4 357 315.4 357 314.7 358 314.7 358 314.1 359 314.1 359 305.3 360 305.3 360 305.3 361 305.3 361 315.4 362 315.4 362 315.4 363 315.4 363 308.7 364 308.7 364 308.7 365 308.7 365 313.2 366 313.2 366 313.2 367 313.2 367 315.9 368 315.9 368 312.0 369 312.0 369 309.1 370 309.1 370 303.7 371 303.7 371 299.0 372 299.0 372 299.0 373 299.0 373 306.9 374 306.9 374 298.5 375 298.5 375 298.5 376 298.5 376 302.3 377 302.3 377 304.6 378 304.6 378 297.0 379 297.0 379 297.0 380 297.0 380 306.0 381 306.0 381 288.2 382 288.2 382 288.2 383 288.2 383 306.6 384 306.6 384 304.5 385 304.5 385 300.6 386 300.6 386 300.6 387 300.6 387 310.0 388 310.0 388 299.9 389 299.9 389 299.9 390 299.9 390 308.2 391 308.2 391 308.2 392 308.2 392 315.4 393 315.4 393 314.1 394 314.1 394 309.8 395 309.8 395 309.8 396 309.8 396 316.3 397 316.3 397 313.6 398 313.6 398 305.5 399 305.5 399 305.5 400 305.5 400 312.3 401 312.3 401 312.3 402 312.3 402 312.7 403 312.7 403 312.7 404 312.7 404 316.5 405 316.5 405 308.0 406 308.0 406 308.0 407 308.0 407 315.9 408 315.9 408 315.9 409 315.9 409 313.6 410 313.6 410 313.6 411 313.6 411 315.4 412 315.4 412 312.7 413 312.7 413 312.7 414 312.7 414 315.4 415 315.4 415 314.5 416 314.5 416 314.9 416.75 314.9 416.75 422.3 416 422.3 416 422.3 415 422.3 415 420.5 414 420.5 414 420.5 413 420.5 413 416.4 412 416.4 412 416.4 411 416.4 411 414.2 410 414.2 410 420.5 409 420.5 409 420.5 408 420.5 408 415.4 407 415.4 407 412.4 406 412.4 406 412.4 405 412.4 405 414.6 404 414.6 404 414.6 403 414.6 403 417.3 402 417.3 402 417.3 401 417.3 401 421.1 400 421.1 400 414.2 399 414.2 399 413.2 398 413.2 398 411.9 397 411.9 397 414.6 396 414.6 396 418.4 395 418.4 395 424.5 394 424.5 394 424.5 393 424.5 393 421.8 392 421.8 392 421.8 391 421.8 391 419.6 390 419.6 390 419.6 389 419.6 389 409.7 388 409.7 388 410.6 387 410.6 387 414.2 386 414.2 386 414.2 385 414.2 385 405.2 384 405.2 384 407.0 383 407.0 383 407.9 382 407.9 382 407.9 381 407.9 381 416.9 380 416.9 380 416.9 379 416.9 379 413.2 378 413.2 378 410.6 377 410.6 377 410.6 376 410.6 376 404.7 375 404.7 375 413.3 374 413.3 374 413.3 373 413.3 373 407.0 372 407.0 372 407.0 371 407.0 371 403.4 370 403.4 370 406.5 369 406.5 369 406.5 368 406.5 368 401.1 367 401.1 367 419.6 366 419.6 366 419.6 365 419.6 365 417.2 364 417.2 364 415.1 363 415.1 363 418.7 362 418.7 362 423.6 361 423.6 361 423.6 360 423.6 360 416.0 359 416.0 359 412.4 358 412.4 358 412.8 357 412.8 357 414.6 356 414.6 356 414.6 355 414.6 355 412.1 354 412.1 354 411.5 353 411.5 353 422.9 352 422.9 352 422.9 351 422.9 351 415.5 350 415.5 350 415.5 349 415.5 349 411.8 348 411.8 348 409.7 347 409.7 347 420.5 346 420.5 346 420.5 345 420.5 345 414.6 344 414.6 344 408.3 343 408.3 343 408.3 342 408.3 342 412.8 341 412.8 341 412.8 340 412.8 340 414.6 339 414.6 339 414.6 338 414.6 338 406.5 337 406.5 337 407.4 336 407.4 336 427.2 335 427.2 335 435.8 334 435.8 334 435.8 333 435.8 333 430.8 332 430.8 332 434.9 331 434.9 331 434.9 330 434.9 330 411.5 329 411.5 329 411.5 328 411.5 328 415.5 327 415.5 327 415.5 326 415.5 326 411.0 325 411.0 325 411.0 324 411.0 324 410.7 323 410.7 323 409.7 322 409.7 322 425.6 321 425.6 321 425.6 320 425.6 320 410.1 319 410.1 319 410.1 318 410.1 318 399.8 317 399.8 317 419.1 316 419.1 316 419.1 315 419.1 315 417.9 314 417.9 314 416.4 313 416.4 313 416.4 312 416.4 312 416.9 311 416.9 311 416.9 310 416.9 310 409.7 309 409.7 309 409.7 308 409.7 308 409.7 307 409.7 307 416.6 306 416.6 306 416.6 305 416.6 305 405.6 304 405.6 304 405.6 303 405.6 303 407.0 302 407.0 302 414.6 301 414.6 301 414.6 300 414.6 300 408.3 299 408.3 299 410.0 298 410.0 298 413.3 297 413.3 297 413.3 296 413.3 296 405.2 295 405.2 295 411.5 294 411.5 294 411.5 293 411.5 293 409.2 292 409.2 292 407.9 291 407.9 291 407.9 290 407.9 290 400.2 289 400.2 289 416.0 288 416.0 288 417.8 287 417.8 287 417.8 286 417.8 286 407.4 285 407.4 285 410.6 284 410.6 284 410.6 283 410.6 283 411.5 282 411.5 282 411.5 281 411.5 281 400.2 280 400.2 280 405.2 279 405.2 279 405.2 278 405.2 278 412.4 277 412.4 277 412.4 276 412.4 276 411.1 275 411.1 275 410.1 274 410.1 274 410.1 273 410.1 273 405.3 272 405.3 272 402.9 271 402.9 271 396.2 270 396.2 270 418.9 269 418.9 269 418.9 268 418.9 268 412.4 267 412.4 267 414.6 266 414.6 266 414.6 265 414.6 265 409.7 264 409.7 264 407.0 263 407.0 263 409.2 262 409.2 262 409.2 261 409.2 261 402.0 260 402.0 260 418.9 259 418.9 259 418.9 258 418.9 258 407.0 257 407.0 257 407.0 256 407.0 256 405.0 255 405.0 255 404.3 254 404.3 254 407.2 253 407.2 253 407.2 252 407.2 252 406.1 251 406.1 251 410.3 250 410.3 250 410.3 249 410.3 249 405.6 248 405.6 248 405.6 247 405.6 247 405.4 246 405.4 246 406.1 245 406.1 245 406.1 244 406.1 244 402.0 243 402.0 243 402.0 242 402.0 242 404.3 241 404.3 241 418.5 240 418.5 240 418.5 239 418.5 239 408.2 238 408.2 238 397.1 237 397.1 237 404.8 236 404.8 236 409.2 235 409.2 235 415.5 234 415.5 234 424.1 233 424.1 233 424.1 232 424.1 232 423.6 231 423.6 231 426.8 230 426.8 230 426.8 229 426.8 229 410.6 228 410.6 228 410.6 227 410.6 227 413.3 226 413.3 226 413.3 225 413.3 225 410.1 224 410.1 224 419.8 223 419.8 223 419.8 222 419.8 222 402.0 221 402.0 221 412.4 220 412.4 220 412.4 219 412.4 219 432.2 218 432.2 218 432.2 217 432.2 217 414.6 216 414.6 216 421.8 215 421.8 215 421.8 214 421.8 214 413.2 213 413.2 213 409.7 212 409.7 212 407.0 211 407.0 211 408.3 210 408.3 210 408.3 209 408.3 209 411.5 208 411.5 208 411.5 207 411.5 207 407.0 206 407.0 206 413.3 205 413.3 205 413.3 204 413.3 204 406.3 203 406.3 203 406.3 202 406.3 202 409.2 201 409.2 201 417.8 200 417.8 200 417.8 199 417.8 199 412.8 198 412.8 198 418.7 197 418.7 197 418.7 196 418.7 196 411.5 195 411.5 195 411.5 194 411.5 194 412.7 193 412.7 193 414.2 192 414.2 192 423.0 191 423.0 191 422.5 190 422.5 190 422.7 189 422.7 189 412.4 188 412.4 188 416.4 187 416.4 187 418.5 186 418.5 186 418.4 185 418.4 185 419.8 184 419.8 184 410.6 183 410.6 183 407.8 182 407.8 182 404.3 181 404.3 181 404.5 180 404.5 180 404.5 179 404.5 179 404.3 178 404.3 178 404.8 177 404.8 177 405.2 176 405.2 176 411.0 175 411.0 175 411.0 174 411.0 174 406.5 173.15 406.5Z" fill="#0000ff" stroke="#0000ff" stroke-width="0.30" stroke-linejoin="miter"/></g>
<path d="M156.50 450.50 v-5.80 M156.50 268.50 v5.80 M192.50 450.50 v-5.80 M192.50 268.50 v5.80 M227.50 450.50 v-5.80 M227.50 268.50 v5.80 M263.50 450.50 v-5.80 M263.50 268.50 v5.80 M299.50 450.50 v-5.80 M299.50 268.50 v5.80 M334.50 450.50 v-5.80 M334.50 268.50 v5.80 M370.50 450.50 v-5.80 M370.50 268.50 v5.80 M406.50 450.50 v-5.80 M406.50 268.50 v5.80 M441.50 450.50 v-5.80 M441.50 268.50 v5.80 M156.50 268.50 h5.80 M441.50 268.50 h-5.80 M156.50 305.50 h5.80 M441.50 305.50 h-5.80 M156.50 341.50 h5.80 M441.50 341.50 h-5.80 M156.50 377.50 h5.80 M441.50 377.50 h-5.80 M156.50 414.50 h5.80 M441.50 414.50 h-5.80 M156.50 450.50 h5.80 M441.50 450.50 h-5.80" stroke="#000" stroke-width="0.70" fill="none"/>
<rect x="156.50" y="268.50" width="285.00" height="182.00" fill="none" stroke="#000" stroke-width="1.00"/>
<text x="156.35" y="462.20" text-anchor="middle" font-size="8.33" style="letter-spacing:-0.25px">0.00</text>
<text x="191.97" y="462.20" text-anchor="middle" font-size="8.33" style="letter-spacing:-0.25px">0.01</text>
<text x="227.58" y="462.20" text-anchor="middle" font-size="8.33" style="letter-spacing:-0.25px">0.02</text>
<text x="263.20" y="462.20" text-anchor="middle" font-size="8.33" style="letter-spacing:-0.25px">0.03</text>
<text x="298.81" y="462.20" text-anchor="middle" font-size="8.33" style="letter-spacing:-0.25px">0.04</text>
<text x="334.43" y="462.20" text-anchor="middle" font-size="8.33" style="letter-spacing:-0.25px">0.05</text>
<text x="370.04" y="462.20" text-anchor="middle" font-size="8.33" style="letter-spacing:-0.25px">0.06</text>
<text x="405.66" y="462.20" text-anchor="middle" font-size="8.33" style="letter-spacing:-0.25px">0.07</text>
<text x="440.58" y="462.20" text-anchor="middle" font-size="8.33" style="letter-spacing:-0.25px">0.08</text>
<text x="151.15" y="271.00" text-anchor="end" font-size="8.33" style="letter-spacing:-0.3px">0.55</text>
<text x="151.15" y="307.00" text-anchor="end" font-size="8.33" style="letter-spacing:-0.3px">0.50</text>
<text x="151.15" y="343.00" text-anchor="end" font-size="8.33" style="letter-spacing:-0.3px">0.45</text>
<text x="151.15" y="380.00" text-anchor="end" font-size="8.33" style="letter-spacing:-0.3px">0.40</text>
<text x="151.15" y="416.00" text-anchor="end" font-size="8.33" style="letter-spacing:-0.3px">0.35</text>
<text x="151.15" y="452.00" text-anchor="end" font-size="8.33" style="letter-spacing:-0.3px">0.30</text>
<text x="441.83" y="476.20" text-anchor="end" font-size="8.33">+5.674442e4</text>
<text x="298.71" y="261.18" text-anchor="middle" font-size="10.00">Q2</text>
<text transform="translate(123.25 360.39) rotate(-90)" text-anchor="middle" font-size="8.33" style="letter-spacing:-1.2px">Q2</text>
</g>
<g>
<clipPath id="c4"><rect x="498.16" y="268.18" width="284.93" height="181.82"/></clipPath>
<g clip-path="url(#c4)"><path d="M515.062 320.7 516 320.7 516 314.0 517 314.0 517 307.2 518 307.2 518 307.2 519 307.2 519 315.8 520 315.8 520 305.0 521 305.0 521 315.8 522 315.8 522 303.4 523 303.4 523 303.4 524 303.4 524 321.6 525 321.6 525 318.9 526 318.9 526 313.7 527 313.7 527 313.7 528 313.7 528 319.4 529 319.4 529 309.9 530 309.9 530 305.9 531 305.9 531 298.4 532 298.4 532 298.4 533 298.4 533 299.6 534 299.6 534 294.6 535 294.6 535 284.0 536 284.0 536 284.0 537 284.0 537 300.5 538 300.5 538 302.7 539 302.7 539 295.3 540 295.3 540 295.3 541 295.3 541 299.1 542 299.1 542 297.7 543 297.7 543 296.2 544 296.2 544 296.2 545 296.2 545 306.3 546 306.3 546 310.8 547 310.8 547 308.1 548 308.1 548 302.5 549 302.5 549 302.5 550 302.5 550 308.1 551 308.1 551 305.0 552 305.0 552 298.7 553 298.7 553 298.7 554 298.7 554 296.0 555 296.0 555 296.0 556 296.0 556 305.0 557 305.0 557 305.6 558 305.6 558 298.9 559 298.9 559 298.9 560 298.9 560 302.7 561 302.7 561 298.9 562 298.9 562 298.9 563 298.9 563 307.7 564 307.7 564 300.0 565 300.0 565 300.0 566 300.0 566 303.6 567 303.6 567 305.2 568 305.2 568 304.2 569 304.2 569 303.6 570 303.6 570 298.7 571 298.7 571 298.7 572 298.7 572 304.5 573 304.5 573 313.1 574 313.1 574 296.9 575 296.9 575 296.9 576 296.9 576 304.1 577 304.1 577 310.8 578 310.8 578 304.6 579 304.6 579 304.5 580 304.5 580 305.2 581 305.2 581 310.8 582 310.8 582 315.8 583 315.8 583 312.2 584 312.2 584 307.2 585 307.2 585 307.2 586 307.2 586 310.4 587 310.4 587 296.9 588 296.9 588 296.9 589 296.9 589 311.7 590 311.7 590 311.2 591 311.2 591 310.6 592 310.6 592 310.6 593 310.6 593 307.7 594 307.7 594 303.6 595 303.6 595 310.8 596 310.8 596 309.9 597 309.9 597 309.9 598 309.9 598 302.5 599 302.5 599 302.5 600 302.5 600 309.9 601 309.9 601 305.8 602 305.8 602 300.0 603 300.0 603 296.0 604 296.0 604 296.0 605 296.0 605 303.6 606 303.6 606 303.6 607 303.6 607 306.3 608 306.3 608 307.0 609 307.0 609 307.0 610 307.0 610 307.0 611 307.0 611 320.3 612 320.3 612 309.9 613 309.9 613 305.0 614 305.0 614 305.0 615 305.0 615 302.5 616 302.5 616 302.5 617 302.5 617 307.7 618 307.7 618 307.7 619 307.7 619 317.6 620 317.6 620 312.6 621 312.6 621 313.4 622 313.4 622 313.5 623 313.5 623 310.4 624 310.4 624 310.4 625 310.4 625 315.1 626 315.1 626 314.9 627 314.9 627 315.2 628 315.2 628 307.4 629 307.4 629 307.4 630 307.4 630 318.5 631 318.5 631 306.8 632 306.8 632 306.8 633 306.8 633 313.6 634 313.6 634 312.7 635 312.7 635 312.4 636 312.4 636 316.2 637 316.2 637 306.1 638 306.1 638 306.1 639 306.1 639 298.7 640 298.7 640 298.7 641 298.7 641 297.5 642 297.5 642 297.5 643 297.5 643 306.3 644 306.3 644 315.3 645 315.3 645 313.6 646 313.6 646 310.4 647 310.4 647 305.0 648 305.0 648 303.4 649 303.4 649 303.4 650 303.4 650 302.8 651 302.8 651 302.0 652 302.0 652 302.0 653 302.0 653 301.4 654 301.4 654 301.4 655 301.4 655 306.8 656 306.8 656 306.8 657 306.8 657 300.0 658 300.0 658 314.4 659 314.4 659 313.5 660 313.5 660 313.5 661 313.5 661 311.3 662 311.3 662 310.8 663 310.8 663 308.1 664 308.1 664 305.6 665 305.6 665 298.9 666 298.9 666 298.9 667 298.9 667 297.5 668 297.5 668 297.5 669 297.5 669 312.6 670 312.6 670 308.1 671 308.1 671 308.1 672 308.1 672 303.2 673 303.2 673 303.2 674 303.2 674 304.5 675 304.5 675 300.7 676 300.7 676 300.7 677 300.7 677 305.6 678 305.6 678 305.1 679 305.1 679 304.1 680 304.1 680 298.0 681 298.0 681 298.0 682 298.0 682 300.3 683 300.3 683 301.4 684 301.4 684 304.5 685 304.5 685 301.3 686 301.3 686 298.4 687 298.4 687 298.4 688 298.4 688 298.4 689 298.4 689 300.9 690 300.9 690 299.1 691 299.1 691 299.1 692 299.1 692 298.4 693 298.4 693 298.4 694 298.4 694 294.4 695 294.4 695 294.4 696 294.4 696 298.2 697 298.2 697 288.1 698 288.1 698 288.1 699 288.1 699 293.7 700 293.7 700 293.7 701 293.7 701 298.7 702 298.7 702 294.9 703 294.9 703 293.3 704 293.3 704 290.7 705 290.7 705 290.7 706 290.7 706 298.7 707 298.7 707 290.6 708 290.6 708 290.6 709 290.6 709 319.4 710 319.4 710 313.5 711 313.5 711 305.6 712 305.6 712 305.6 713 305.6 713 321.6 714 321.6 714 315.8 715 315.8 715 315.8 716 315.8 716 323.4 717 323.4 717 323.4 718 323.4 718 313.5 719 313.5 719 313.5 720 313.5 720 314.9 721 314.9 721 305.4 722 305.4 722 305.4 723 305.4 723 297.8 724 297.8 724 297.8 725 297.8 725 305.9 726 305.9 726 305.9 727 305.9 727 308.1 728 308.1 728 301.4 729 301.4 729 301.4 730 301.4 730 313.5 731 313.5 731 308.8 732 308.8 732 308.8 733 308.8 733 306.1 734 306.1 734 306.1 735 306.1 735 305.4 736 305.4 736 305.4 737 305.4 737 307.7 738 307.7 738 307.7 739 307.7 739 312.2 740 312.2 740 303.2 741 303.2 741 300.7 742 300.7 742 300.7 743 300.7 743 308.1 744 308.1 744 301.1 745 301.1 745 301.1 746 301.1 746 307.7 747 307.7 747 299.1 748 299.1 748 299.1 749 299.1 749 306.8 750 306.8 750 305.4 751 305.4 751 306.8 752 306.8 752 302.3 753 302.3 753 298.7 754 298.7 754 294.8 755 294.8 755 294.8 756 294.8 756 302.5 757 302.5 757 308.6 758 308.6 758 309.9 758.662 309.9 758.662 400.7 758 400.7 758 421.6 757 421.6 757 421.6 756 421.6 756 414.2 755 414.2 755 403.0 754 403.0 754 409.5 753 409.5 753 409.5 752 409.5 752 409.3 751 409.3 751 409.3 750 409.3 750 405.6 749 405.6 749 403.0 748 403.0 748 407.0 747 407.0 747 409.3 746 409.3 746 409.3 745 409.3 745 413.3 744 413.3 744 413.3 743 413.3 743 420.3 742 420.3 742 420.3 741 420.3 741 413.8 740 413.8 740 411.5 739 411.5 739 412.2 738 412.2 738 414.5 737 414.5 737 414.5 736 414.5 736 412.0 735 412.0 735 412.0 734 412.0 734 411.1 733 411.1 733 419.2 732 419.2 732 425.0 731 425.0 731 425.0 730 425.0 730 418.7 729 418.7 729 415.7 728 415.7 728 412.4 727 412.4 727 419.2 726 419.2 726 419.2 725 419.2 725 421.4 724 421.4 724 421.4 723 421.4 723 417.4 722 417.4 722 414.2 721 414.2 721 414.2 720 414.2 720 416.9 719 416.9 719 419.2 718 419.2 718 423.7 717 423.7 717 434.5 716 434.5 716 434.5 715 434.5 715 425.0 714 425.0 714 420.5 713 420.5 713 420.5 712 420.5 712 416.5 711 416.5 711 429.5 710 429.5 710 429.5 709 429.5 709 407.1 708 407.1 708 398.5 707 398.5 707 401.6 706 401.6 706 404.5 705 404.5 705 404.5 704 404.5 704 400.3 703 400.3 703 409.5 702 409.5 702 409.5 701 409.5 701 405.4 700 405.4 700 399.8 699 399.8 699 399.8 698 399.8 698 409.3 697 409.3 697 409.3 696 409.3 696 406.3 695 406.3 695 403.9 694 403.9 694 403.9 693 403.9 693 399.4 692 399.4 692 407.0 691 407.0 691 407.0 690 407.0 690 402.1 689 402.1 689 403.1 688 403.1 688 404.8 687 404.8 687 404.8 686 404.8 686 407.9 685 407.9 685 414.7 684 414.7 684 414.7 683 414.7 683 401.2 682 401.2 682 406.6 681 406.6 681 406.6 680 406.6 680 403.4 679 403.4 679 418.5 678 418.5 678 418.5 677 418.5 677 407.9 676 407.9 676 408.3 675 408.3 675 408.4 674 408.4 674 408.4 673 408.4 673 425.7 672 425.7 672 420.1 671 420.1 671 420.1 670 420.1 670 416.0 669 416.0 669 416.0 668 416.0 668 407.0 667 407.0 667 414.2 666 414.2 666 414.2 665 414.2 665 412.4 664 412.4 664 408.8 663 408.8 663 411.5 662 411.5 662 411.5 661 411.5 661 417.4 660 417.4 660 417.4 659 417.4 659 410.2 658 410.2 658 424.6 657 424.6 657 424.6 656 424.6 656 411.5 655 411.5 655 402.1 654 402.1 654 409.3 653 409.3 653 409.3 652 409.3 652 402.5 651 402.5 651 408.8 650 408.8 650 408.8 649 408.8 649 412.9 648 412.9 648 420.5 647 420.5 647 420.5 646 420.5 646 418.7 645 418.7 645 425.5 644 425.5 644 425.5 643 425.5 643 421.9 642 421.9 642 414.9 641 414.9 641 414.9 640 414.9 640 415.1 639 415.1 639 415.1 638 415.1 638 419.2 637 419.2 637 424.6 636 424.6 636 424.6 635 424.6 635 420.3 634 420.3 634 418.3 633 418.3 633 424.1 632 424.1 632 424.1 631 424.1 631 427.3 630 427.3 630 436.7 629 436.7 629 436.7 628 436.7 628 425.0 627 425.0 627 425.0 626 425.0 626 414.2 625 414.2 625 421.0 624 421.0 624 437.6 623 437.6 623 437.6 622 437.6 622 419.2 621 419.2 621 430.9 620 430.9 620 430.9 619 430.9 619 416.5 618 416.5 618 417.4 617 417.4 617 417.4 616 417.4 616 422.8 615 422.8 615 422.8 614 422.8 614 428.8 613 428.8 613 428.8 612 428.8 612 421.9 611 421.9 611 421.9 610 421.9 610 414.7 609 414.7 609 428.6 608 428.6 608 428.6 607 428.6 607 422.8 606 422.8 606 418.3 605 418.3 605 418.3 604 418.3 604 410.6 603 410.6 603 412.4 602 412.4 602 412.4 601 412.4 601 418.5 600 418.5 600 418.5 599 418.5 599 413.3 598 413.3 598 414.7 597 414.7 597 417.4 596 417.4 596 417.4 595 417.4 595 427.5 594 427.5 594 424.1 593 424.1 593 421.4 592 421.4 592 419.9 591 419.9 591 418.7 590 418.7 590 414.7 589 414.7 589 430.2 588 430.2 588 430.2 587 430.2 587 424.6 586 424.6 586 416.5 585 416.5 585 416.5 584 416.5 584 418.4 583 418.4 583 419.2 582 419.2 582 426.1 581 426.1 581 426.1 580 426.1 580 415.1 579 415.1 579 434.5 578 434.5 578 434.5 577 434.5 577 416.0 576 416.0 576 416.0 575 416.0 575 412.4 574 412.4 574 403.4 573 403.4 573 423.7 572 423.7 572 423.7 571 423.7 571 415.9 570 415.9 570 409.7 569 409.7 569 412.9 568 412.9 568 412.9 567 412.9 567 411.1 566 411.1 566 411.1 565 411.1 565 411.1 564 411.1 564 411.1 563 411.1 563 409.3 562 409.3 562 416.5 561 416.5 561 416.5 560 416.5 560 414.1 559 414.1 559 415.0 558 415.0 558 413.5 557 413.5 557 409.3 556 409.3 556 409.7 555 409.7 555 409.7 554 409.7 554 407.0 553 407.0 553 414.7 552 414.7 552 414.7 551 414.7 551 409.3 550 409.3 550 417.4 549 417.4 549 422.1 548 422.1 548 422.1 547 422.1 547 412.0 546 412.0 546 420.5 545 420.5 545 420.5 544 420.5 544 406.1 543 406.1 543 401.6 542 401.6 542 407.9 541 407.9 541 406.6 540 406.6 540 406.6 539 406.6 539 400.7 538 400.7 538 406.4 537 406.4 537 406.7 536 406.7 536 407.2 535 407.2 535 403.9 534 403.9 534 403.9 533 403.9 533 407.9 532 407.9 532 412.9 531 412.9 531 412.9 530 412.9 530 420.1 529 420.1 529 437.6 528 437.6 528 437.6 527 437.6 527 432.2 526 432.2 526 430.1 525 430.1 525 426.8 524 426.8 524 426.8 523 426.8 523 422.8 522 422.8 522 428.6 521 428.6 521 428.6 520 428.6 520 421.9 519 421.9 519 422.8 518 422.8 518 422.8 517 422.8 517 420.5 516 420.5 516 420.5 515.062 420.5Z" fill="#0000ff" stroke="#0000ff" stroke-width="0.30" stroke-linejoin="miter"/></g>
<path d="M498.50 450.50 v-5.80 M498.50 268.50 v5.80 M534.50 450.50 v-5.80 M534.50 268.50 v5.80 M569.50 450.50 v-5.80 M569.50 268.50 v5.80 M605.50 450.50 v-5.80 M605.50 268.50 v5.80 M641.50 450.50 v-5.80 M641.50 268.50 v5.80 M676.50 450.50 v-5.80 M676.50 268.50 v5.80 M712.50 450.50 v-5.80 M712.50 268.50 v5.80 M747.50 450.50 v-5.80 M747.50 268.50 v5.80 M783.50 450.50 v-5.80 M783.50 268.50 v5.80 M498.50 268.50 h5.80 M783.50 268.50 h-5.80 M498.50 305.50 h5.80 M783.50 305.50 h-5.80 M498.50 341.50 h5.80 M783.50 341.50 h-5.80 M498.50 377.50 h5.80 M783.50 377.50 h-5.80 M498.50 414.50 h5.80 M783.50 414.50 h-5.80 M498.50 450.50 h5.80 M783.50 450.50 h-5.80" stroke="#000" stroke-width="0.70" fill="none"/>
<rect x="498.50" y="268.50" width="285.00" height="182.00" fill="none" stroke="#000" stroke-width="1.00"/>
<text x="498.26" y="462.20" text-anchor="middle" font-size="8.33" style="letter-spacing:-0.25px">0.00</text>
<text x="533.88" y="462.20" text-anchor="middle" font-size="8.33" style="letter-spacing:-0.25px">0.01</text>
<text x="569.49" y="462.20" text-anchor="middle" font-size="8.33" style="letter-spacing:-0.25px">0.02</text>
<text x="605.11" y="462.20" text-anchor="middle" font-size="8.33" style="letter-spacing:-0.25px">0.03</text>
<text x="640.73" y="462.20" text-anchor="middle" font-size="8.33" style="letter-spacing:-0.25px">0.04</text>
<text x="676.34" y="462.20" text-anchor="middle" font-size="8.33" style="letter-spacing:-0.25px">0.05</text>
<text x="711.96" y="462.20" text-anchor="middle" font-size="8.33" style="letter-spacing:-0.25px">0.06</text>
<text x="747.57" y="462.20" text-anchor="middle" font-size="8.33" style="letter-spacing:-0.25px">0.07</text>
<text x="782.49" y="462.20" text-anchor="middle" font-size="8.33" style="letter-spacing:-0.25px">0.08</text>
<text x="492.26" y="271.00" text-anchor="end" font-size="8.33" style="letter-spacing:-0.3px"><tspan style="letter-spacing:-1.1px">−</tspan>0.55</text>
<text x="492.26" y="307.00" text-anchor="end" font-size="8.33" style="letter-spacing:-0.3px"><tspan style="letter-spacing:-1.1px">−</tspan>0.60</text>
<text x="492.26" y="343.00" text-anchor="end" font-size="8.33" style="letter-spacing:-0.3px"><tspan style="letter-spacing:-1.1px">−</tspan>0.65</text>
<text x="492.26" y="380.00" text-anchor="end" font-size="8.33" style="letter-spacing:-0.3px"><tspan style="letter-spacing:-1.1px">−</tspan>0.70</text>
<text x="492.26" y="416.00" text-anchor="end" font-size="8.33" style="letter-spacing:-0.3px"><tspan style="letter-spacing:-1.1px">−</tspan>0.75</text>
<text x="492.26" y="452.00" text-anchor="end" font-size="8.33" style="letter-spacing:-0.3px"><tspan style="letter-spacing:-1.1px">−</tspan>0.80</text>
<text x="783.74" y="476.20" text-anchor="end" font-size="8.33">+5.674442e4</text>
<text x="640.62" y="261.18" text-anchor="middle" font-size="10.00">U2</text>
<text transform="translate(458.66 360.39) rotate(-90)" text-anchor="middle" font-size="8.33" style="letter-spacing:-1.2px">U2</text>
</g>
<g>
<clipPath id="c5"><rect x="840.07" y="268.18" width="284.93" height="181.82"/></clipPath>
<g clip-path="url(#c5)"><path d="M856.974 433.7 857 433.7 857 433.1 858 433.1 858 431.9 859 431.9 859 431.0 860 431.0 860 430.6 861 430.6 861 428.1 862 428.1 862 429.2 863 429.2 863 425.1 864 425.1 864 429.4 865 429.4 865 430.3 866 430.3 866 429.5 867 429.5 867 428.5 868 428.5 868 428.7 869 428.7 869 427.2 870 427.2 870 429.0 871 429.0 871 428.7 872 428.7 872 428.7 873 428.7 873 428.7 874 428.7 874 424.6 875 424.6 875 424.6 876 424.6 876 428.3 877 428.3 877 427.2 878 427.2 878 425.5 879 425.5 879 425.5 880 425.5 880 427.9 881 427.9 881 429.3 882 429.3 882 428.5 883 428.5 883 426.8 884 426.8 884 426.8 885 426.8 885 428.9 886 428.9 886 428.9 887 428.9 887 428.9 888 428.9 888 429.2 889 429.2 889 429.3 890 429.3 890 429.9 891 429.9 891 429.8 892 429.8 892 429.6 893 429.6 893 429.2 894 429.2 894 429.3 895 429.3 895 428.2 896 428.2 896 429.6 897 429.6 897 430.2 898 430.2 898 429.3 899 429.3 899 428.3 900 428.3 900 427.7 901 427.7 901 429.5 902 429.5 902 430.0 903 430.0 903 428.2 904 428.2 904 428.2 905 428.2 905 427.7 906 427.7 906 430.5 907 430.5 907 427.8 908 427.8 908 429.2 909 429.2 909 429.6 910 429.6 910 430.0 911 430.0 911 429.3 912 429.3 912 425.5 913 425.5 913 425.5 914 425.5 914 428.0 915 428.0 915 431.5 916 431.5 916 431.5 917 431.5 917 430.4 918 430.4 918 429.2 919 429.2 919 430.0 920 430.0 920 431.7 921 431.7 921 430.4 922 430.4 922 430.0 923 430.0 923 429.8 924 429.8 924 427.2 925 427.2 925 430.8 926 430.8 926 428.6 927 428.6 927 428.7 928 428.7 928 428.7 929 428.7 929 429.5 930 429.5 930 428.9 931 428.9 931 430.7 932 430.7 932 430.0 933 430.0 933 431.9 934 431.9 934 430.4 935 430.4 935 430.4 936 430.4 936 430.1 937 430.1 937 430.1 938 430.1 938 430.8 939 430.8 939 430.7 940 430.7 940 432.0 941 432.0 941 430.8 942 430.8 942 430.3 943 430.3 943 430.3 944 430.3 944 431.0 945 431.0 945 430.5 946 430.5 946 430.5 947 430.5 947 431.0 948 431.0 948 430.4 949 430.4 949 432.3 950 432.3 950 431.1 951 431.1 951 431.1 952 431.1 952 431.2 953 431.2 953 430.3 954 430.3 954 429.4 955 429.4 955 429.4 956 429.4 956 431.6 957 431.6 957 431.6 958 431.6 958 431.6 959 431.6 959 431.9 960 431.9 960 430.4 961 430.4 961 429.9 962 429.9 962 429.9 963 429.9 963 432.4 964 432.4 964 431.3 965 431.3 965 429.8 966 429.8 966 429.8 967 429.8 967 430.8 968 430.8 968 431.8 969 431.8 969 430.5 970 430.5 970 430.4 971 430.4 971 432.2 972 432.2 972 430.8 973 430.8 973 430.1 974 430.1 974 430.3 975 430.3 975 430.5 976 430.5 976 431.5 977 431.5 977 430.8 978 430.8 978 431.9 979 431.9 979 431.2 980 431.2 980 431.0 981 431.0 981 430.3 982 430.3 982 429.9 983 429.9 983 430.3 984 430.3 984 429.8 985 429.8 985 429.8 986 429.8 986 429.8 987 429.8 987 430.9 988 430.9 988 431.2 989 431.2 989 430.3 990 430.3 990 430.3 991 430.3 991 431.7 992 431.7 992 430.6 993 430.6 993 430.9 994 430.9 994 429.9 995 429.9 995 431.0 996 431.0 996 430.7 997 430.7 997 430.4 998 430.4 998 428.8 999 428.8 999 429.2 1000 429.2 1000 429.2 1001 429.2 1001 429.5 1002 429.5 1002 430.0 1003 430.0 1003 430.6 1004 430.6 1004 429.2 1005 429.2 1005 429.2 1006 429.2 1006 429.2 1007 429.2 1007 429.9 1008 429.9 1008 430.8 1009 430.8 1009 430.3 1010 430.3 1010 430.0 1011 430.0 1011 429.6 1012 429.6 1012 429.6 1013 429.6 1013 427.3 1014 427.3 1014 427.3 1015 427.3 1015 430.3 1016 430.3 1016 430.7 1017 430.7 1017 431.3 1018 431.3 1018 430.6 1019 430.6 1019 430.0 1020 430.0 1020 428.8 1021 428.8 1021 429.9 1022 429.9 1022 429.7 1023 429.7 1023 430.7 1024 430.7 1024 430.6 1025 430.6 1025 430.2 1026 430.2 1026 430.5 1027 430.5 1027 428.5 1028 428.5 1028 428.5 1029 428.5 1029 429.1 1030 429.1 1030 430.4 1031 430.4 1031 429.3 1032 429.3 1032 429.4 1033 429.4 1033 430.4 1034 430.4 1034 429.8 1035 429.8 1035 429.7 1036 429.7 1036 430.8 1037 430.8 1037 429.6 1038 429.6 1038 430.3 1039 430.3 1039 430.3 1040 430.3 1040 429.5 1041 429.5 1041 431.0 1042 431.0 1042 425.5 1043 425.5 1043 425.5 1044 425.5 1044 430.1 1045 430.1 1045 430.6 1046 430.6 1046 430.8 1047 430.8 1047 425.5 1048 425.5 1048 425.5 1049 425.5 1049 429.9 1050 429.9 1050 433.6 1051 433.6 1051 433.6 1052 433.6 1052 430.0 1053 430.0 1053 428.5 1054 428.5 1054 430.2 1055 430.2 1055 430.3 1056 430.3 1056 428.3 1057 428.3 1057 428.3 1058 428.3 1058 431.1 1059 431.1 1059 430.5 1060 430.5 1060 430.3 1061 430.3 1061 430.1 1062 430.1 1062 429.2 1063 429.2 1063 430.5 1064 430.5 1064 430.4 1065 430.4 1065 431.2 1066 431.2 1066 428.7 1067 428.7 1067 428.9 1068 428.9 1068 429.1 1069 429.1 1069 429.6 1070 429.6 1070 431.4 1071 431.4 1071 430.1 1072 430.1 1072 430.1 1073 430.1 1073 429.4 1074 429.4 1074 430.6 1075 430.6 1075 429.4 1076 429.4 1076 429.4 1077 429.4 1077 429.4 1078 429.4 1078 429.7 1079 429.7 1079 429.2 1080 429.2 1080 429.2 1081 429.2 1081 425.5 1082 425.5 1082 425.5 1083 425.5 1083 429.2 1084 429.2 1084 425.0 1085 425.0 1085 430.0 1086 430.0 1086 429.6 1087 429.6 1087 428.3 1088 428.3 1088 429.3 1089 429.3 1089 429.3 1090 429.3 1090 429.3 1091 429.3 1091 428.4 1092 428.4 1092 428.2 1093 428.2 1093 428.1 1094 428.1 1094 428.9 1095 428.9 1095 429.1 1096 429.1 1096 428.5 1097 428.5 1097 428.9 1098 428.9 1098 429.7 1099 429.7 1099 429.7 1100 429.7 1100 430.5 1100.57 430.5 1100.57 444.9 1100 444.9 1100 447.5 1099 447.5 1099 445.9 1098 445.9 1098 444.8 1097 444.8 1097 445.8 1096 445.8 1096 447.4 1095 447.4 1095 445.5 1094 445.5 1094 444.9 1093 444.9 1093 445.7 1092 445.7 1092 446.4 1091 446.4 1091 445.9 1090 445.9 1090 445.9 1089 445.9 1089 445.4 1088 445.4 1088 445.1 1087 445.1 1087 446.0 1086 446.0 1086 445.8 1085 445.8 1085 444.9 1084 444.9 1084 444.8 1083 444.8 1083 446.2 1082 446.2 1082 444.8 1081 444.8 1081 445.2 1080 445.2 1080 445.0 1079 445.0 1079 445.3 1078 445.3 1078 446.8 1077 446.8 1077 446.1 1076 446.1 1076 445.9 1075 445.9 1075 446.7 1074 446.7 1074 446.8 1073 446.8 1073 447.1 1072 447.1 1072 447.3 1071 447.3 1071 447.3 1070 447.3 1070 446.5 1069 446.5 1069 446.1 1068 446.1 1068 447.4 1067 447.4 1067 446.9 1066 446.9 1066 447.7 1065 447.7 1065 446.3 1064 446.3 1064 446.4 1063 446.4 1063 447.3 1062 447.3 1062 447.6 1061 447.6 1061 446.8 1060 446.8 1060 446.4 1059 446.4 1059 447.0 1058 447.0 1058 447.8 1057 447.8 1057 447.8 1056 447.8 1056 446.9 1055 446.9 1055 448.0 1054 448.0 1054 448.4 1053 448.4 1053 448.4 1052 448.4 1052 447.4 1051 447.4 1051 446.6 1050 446.6 1050 447.5 1049 447.5 1049 446.4 1048 446.4 1048 448.0 1047 448.0 1047 447.6 1046 447.6 1046 446.0 1045 446.0 1045 446.6 1044 446.6 1044 446.4 1043 446.4 1043 446.4 1042 446.4 1042 446.7 1041 446.7 1041 447.0 1040 447.0 1040 447.8 1039 447.8 1039 447.8 1038 447.8 1038 447.2 1037 447.2 1037 447.2 1036 447.2 1036 446.6 1035 446.6 1035 446.8 1034 446.8 1034 446.5 1033 446.5 1033 446.5 1032 446.5 1032 446.5 1031 446.5 1031 446.0 1030 446.0 1030 447.5 1029 447.5 1029 447.3 1028 447.3 1028 447.3 1027 447.3 1027 447.9 1026 447.9 1026 446.4 1025 446.4 1025 446.5 1024 446.5 1024 446.5 1023 446.5 1023 447.9 1022 447.9 1022 446.6 1021 446.6 1021 448.3 1020 448.3 1020 447.1 1019 447.1 1019 447.9 1018 447.9 1018 448.9 1017 448.9 1017 448.6 1016 448.6 1016 448.5 1015 448.5 1015 448.1 1014 448.1 1014 448.1 1013 448.1 1013 449.1 1012 449.1 1012 449.1 1011 449.1 1011 447.0 1010 447.0 1010 447.1 1009 447.1 1009 447.1 1008 447.1 1008 447.8 1007 447.8 1007 447.6 1006 447.6 1006 447.2 1005 447.2 1005 447.4 1004 447.4 1004 446.9 1003 446.9 1003 447.1 1002 447.1 1002 446.7 1001 446.7 1001 447.4 1000 447.4 1000 446.4 999 446.4 999 446.8 998 446.8 998 446.7 997 446.7 997 447.1 996 447.1 996 446.8 995 446.8 995 451.2 994 451.2 994 451.2 993 451.2 993 448.5 992 448.5 992 448.5 991 448.5 991 447.3 990 447.3 990 447.3 989 447.3 989 447.2 988 447.2 988 447.1 987 447.1 987 447.1 986 447.1 986 447.0 985 447.0 985 446.7 984 446.7 984 446.4 983 446.4 983 447.0 982 447.0 982 446.9 981 446.9 981 446.6 980 446.6 980 447.6 979 447.6 979 447.4 978 447.4 978 447.2 977 447.2 977 447.1 976 447.1 976 446.4 975 446.4 975 447.5 974 447.5 974 447.6 973 447.6 973 448.3 972 448.3 972 448.0 971 448.0 971 448.1 970 448.1 970 448.4 969 448.4 969 448.4 968 448.4 968 448.8 967 448.8 967 448.5 966 448.5 966 448.5 965 448.5 965 448.9 964 448.9 964 448.5 963 448.5 963 450.6 962 450.6 962 450.6 961 450.6 961 448.3 960 448.3 960 449.0 959 449.0 959 448.5 958 448.5 958 448.0 957 448.0 957 448.2 956 448.2 956 448.7 955 448.7 955 448.3 954 448.3 954 448.8 953 448.8 953 447.8 952 447.8 952 449.3 951 449.3 951 449.3 950 449.3 950 448.8 949 448.8 949 447.7 948 447.7 948 448.1 947 448.1 947 448.1 946 448.1 946 448.1 945 448.1 945 447.5 944 447.5 944 447.4 943 447.4 943 447.4 942 447.4 942 447.0 941 447.0 941 445.5 940 445.5 940 446.1 939 446.1 939 445.9 938 445.9 938 446.4 937 446.4 937 446.4 936 446.4 936 445.4 935 445.4 935 446.6 934 446.6 934 446.2 933 446.2 933 446.4 932 446.4 932 447.0 931 447.0 931 445.9 930 445.9 930 448.3 929 448.3 929 448.3 928 448.3 928 446.6 927 446.6 927 445.0 926 445.0 926 445.9 925 445.9 925 445.7 924 445.7 924 445.3 923 445.3 923 445.3 922 445.3 922 446.1 921 446.1 921 445.1 920 445.1 920 445.0 919 445.0 919 445.6 918 445.6 918 445.0 917 445.0 917 449.5 916 449.5 916 449.6 915 449.6 915 449.2 914 449.2 914 449.0 913 449.0 913 445.2 912 445.2 912 445.9 911 445.9 911 445.9 910 445.9 910 446.0 909 446.0 909 444.7 908 444.7 908 445.8 907 445.8 907 445.3 906 445.3 906 445.9 905 445.9 905 446.3 904 446.3 904 446.3 903 446.3 903 445.6 902 445.6 902 445.2 901 445.2 901 445.0 900 445.0 900 446.4 899 446.4 899 445.6 898 445.6 898 445.6 897 445.6 897 446.8 896 446.8 896 445.8 895 445.8 895 446.9 894 446.9 894 445.6 893 445.6 893 445.8 892 445.8 892 446.6 891 446.6 891 447.0 890 447.0 890 447.3 889 447.3 889 446.1 888 446.1 888 445.9 887 445.9 887 446.7 886 446.7 886 445.7 885 445.7 885 446.2 884 446.2 884 446.7 883 446.7 883 447.1 882 447.1 882 447.1 881 447.1 881 445.8 880 445.8 880 447.2 879 447.2 879 446.9 878 446.9 878 445.8 877 445.8 877 445.5 876 445.5 876 447.6 875 447.6 875 446.2 874 446.2 874 447.7 873 447.7 873 446.9 872 446.9 872 446.9 871 446.9 871 446.4 870 446.4 870 446.6 869 446.6 869 446.7 868 446.7 868 447.6 867 447.6 867 447.6 866 447.6 866 447.4 865 447.4 865 447.8 864 447.8 864 448.0 863 448.0 863 448.0 862 448.0 862 447.7 861 447.7 861 446.4 860 446.4 860 447.3 859 447.3 859 447.3 858 447.3 858 447.3 857 447.3 857 447.4 856.974 447.4Z" fill="#0000ff" stroke="#0000ff" stroke-width="0.30" stroke-linejoin="miter"/><rect x="918.45" y="402.70" width="1.70" height="39.34" fill="#0000ff"/><rect x="921.15" y="407.80" width="1.30" height="35.28" fill="#0000ff"/><rect x="1088.25" y="315.20" width="1.50" height="127.66" fill="#0000ff"/><rect x="1091.00" y="272.00" width="2.00" height="170.74" fill="#0000ff"/><rect x="1098.15" y="366.30" width="1.70" height="78.16" fill="#0000ff"/></g>
<path d="M840.50 450.50 v-5.80 M840.50 268.50 v5.80 M876.50 450.50 v-5.80 M876.50 268.50 v5.80 M911.50 450.50 v-5.80 M911.50 268.50 v5.80 M947.50 450.50 v-5.80 M947.50 268.50 v5.80 M983.50 450.50 v-5.80 M983.50 268.50 v5.80 M1018.50 450.50 v-5.80 M1018.50 268.50 v5.80 M1054.50 450.50 v-5.80 M1054.50 268.50 v5.80 M1089.50 450.50 v-5.80 M1089.50 268.50 v5.80 M1125.50 450.50 v-5.80 M1125.50 268.50 v5.80 M840.50 268.50 h5.80 M1125.50 268.50 h-5.80 M840.50 305.50 h5.80 M1125.50 305.50 h-5.80 M840.50 341.50 h5.80 M1125.50 341.50 h-5.80 M840.50 377.50 h5.80 M1125.50 377.50 h-5.80 M840.50 414.50 h5.80 M1125.50 414.50 h-5.80 M840.50 450.50 h5.80 M1125.50 450.50 h-5.80" stroke="#000" stroke-width="0.70" fill="none"/>
<rect x="840.50" y="268.50" width="285.00" height="182.00" fill="none" stroke="#000" stroke-width="1.00"/>
<text x="840.17" y="462.20" text-anchor="middle" font-size="8.33" style="letter-spacing:-0.25px">0.00</text>
<text x="875.79" y="462.20" text-anchor="middle" font-size="8.33" style="letter-spacing:-0.25px">0.01</text>
<text x="911.41" y="462.20" text-anchor="middle" font-size="8.33" style="letter-spacing:-0.25px">0.02</text>
<text x="947.02" y="462.20" text-anchor="middle" font-size="8.33" style="letter-spacing:-0.25px">0.03</text>
<text x="982.64" y="462.20" text-anchor="middle" font-size="8.33" style="letter-spacing:-0.25px">0.04</text>
<text x="1018.25" y="462.20" text-anchor="middle" font-size="8.33" style="letter-spacing:-0.25px">0.05</text>
<text x="1053.87" y="462.20" text-anchor="middle" font-size="8.33" style="letter-spacing:-0.25px">0.06</text>
<text x="1089.48" y="462.20" text-anchor="middle" font-size="8.33" style="letter-spacing:-0.25px">0.07</text>
<text x="1124.40" y="462.20" text-anchor="middle" font-size="8.33" style="letter-spacing:-0.25px">0.08</text>
<text x="835.07" y="271.00" text-anchor="end" font-size="8.33" style="letter-spacing:-0.3px">0.5</text>
<text x="835.07" y="307.00" text-anchor="end" font-size="8.33" style="letter-spacing:-0.3px">0.0</text>
<text x="835.07" y="343.00" text-anchor="end" font-size="8.33" style="letter-spacing:-0.3px"><tspan style="letter-spacing:-1.1px">−</tspan>0.5</text>
<text x="835.07" y="380.00" text-anchor="end" font-size="8.33" style="letter-spacing:-0.3px"><tspan style="letter-spacing:-1.1px">−</tspan>1.0</text>
<text x="835.07" y="416.00" text-anchor="end" font-size="8.33" style="letter-spacing:-0.3px"><tspan style="letter-spacing:-1.1px">−</tspan>1.5</text>
<text x="835.07" y="452.00" text-anchor="end" font-size="8.33" style="letter-spacing:-0.3px"><tspan style="letter-spacing:-1.1px">−</tspan>2.0</text>
<text x="1125.65" y="476.20" text-anchor="end" font-size="8.33">+5.674442e4</text>
<text x="982.54" y="261.18" text-anchor="middle" font-size="10.00">I2</text>
<text transform="translate(805.27 360.39) rotate(-90)" text-anchor="middle" font-size="8.33" style="letter-spacing:-1.2px">I2</text>
</g>
</svg>
</body></html>
